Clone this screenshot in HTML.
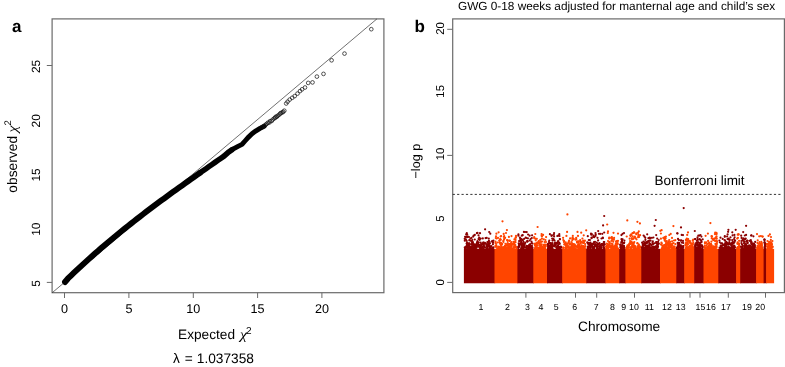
<!DOCTYPE html>
<html><head><meta charset="utf-8"><style>
html,body{margin:0;padding:0;background:#fff;overflow:hidden;width:785px;height:367px;}
svg{display:block;font-family:"Liberation Sans", sans-serif;will-change:transform;text-rendering:geometricPrecision;}
</style></head><body>
<svg width="785" height="367" viewBox="0 0 785 367" fill="#000">
<rect width="785" height="367" fill="#fff"/>
<rect x="52.1" y="18.9" width="331.79999999999995" height="273.8" fill="none" stroke="#6a6a6a" stroke-width="1.2"/>
<line x1="52.1" y1="292.8" x2="376.9" y2="18.9" stroke="#333" stroke-width="0.7"/>
<line x1="64.5" y1="292.7" x2="64.5" y2="298" stroke="#6a6a6a" stroke-width="1"/>
<text x="64.5" y="312.6" font-size="12.6" text-anchor="middle">0</text>
<line x1="128.9" y1="292.7" x2="128.9" y2="298" stroke="#6a6a6a" stroke-width="1"/>
<text x="128.9" y="312.6" font-size="12.6" text-anchor="middle">5</text>
<line x1="193.3" y1="292.7" x2="193.3" y2="298" stroke="#6a6a6a" stroke-width="1"/>
<text x="193.3" y="312.6" font-size="12.6" text-anchor="middle">10</text>
<line x1="257.6" y1="292.7" x2="257.6" y2="298" stroke="#6a6a6a" stroke-width="1"/>
<text x="257.6" y="312.6" font-size="12.6" text-anchor="middle">15</text>
<line x1="321.9" y1="292.7" x2="321.9" y2="298" stroke="#6a6a6a" stroke-width="1"/>
<text x="321.9" y="312.6" font-size="12.6" text-anchor="middle">20</text>
<line x1="46.8" y1="282.4" x2="52.1" y2="282.4" stroke="#6a6a6a" stroke-width="1"/>
<text transform="translate(40.3,283.4) rotate(-90)" font-size="11.9" text-anchor="middle">5</text>
<text transform="translate(40.3,229.2) rotate(-90)" font-size="11.9" text-anchor="middle">10</text>
<text transform="translate(40.3,175.0) rotate(-90)" font-size="11.9" text-anchor="middle">15</text>
<text transform="translate(40.3,120.8) rotate(-90)" font-size="11.9" text-anchor="middle">20</text>
<line x1="46.8" y1="65.5" x2="52.1" y2="65.5" stroke="#6a6a6a" stroke-width="1"/>
<text transform="translate(40.3,66.5) rotate(-90)" font-size="11.9" text-anchor="middle">25</text>
<text x="12" y="31.8" font-size="17" font-weight="bold">a</text>
<text transform="translate(17.2,192.7) rotate(-90)" font-size="13.8">observed</text>
<text transform="translate(17.4,132.4) rotate(-90) scale(1.15,1)" font-size="14" font-family="Liberation Serif" font-style="italic">χ</text>
<text transform="translate(10.6,125.4) rotate(-90)" font-size="9.6">2</text>
<text x="178.1" y="338.6" font-size="13.65">Expected</text>
<text transform="translate(240,338.6) scale(1.15,1)" font-size="14" font-family="Liberation Serif" font-style="italic">χ</text>
<text x="246" y="334.3" font-size="10">2</text>
<text x="172.9" y="362.8" font-size="13.7">λ</text>
<text x="184.8" y="362.8" font-size="13.7">=</text>
<text x="196.8" y="362.8" font-size="13.7">1.037358</text>
<polyline points="65.0,282.0 68.0,278.47 71.0,275.58 74.0,272.73 77.0,269.9 80.0,267.1 83.0,264.34 86.0,261.6 89.0,258.89 92.0,256.21 95.0,253.55 98.0,250.93 101.0,248.32 104.0,245.75 107.0,243.2 110.0,240.67 113.0,238.16 116.0,235.68 119.0,233.22 122.0,230.78 125.0,228.36 128.0,225.96 131.0,223.58 134.0,221.22 137.0,218.88 140.0,216.56 143.0,214.25 146.0,211.96 149.0,209.69 152.0,207.43 155.0,205.18 158.0,202.95 161.0,200.73 164.0,198.53 167.0,196.33 170.0,194.15 173.0,191.98 176.0,189.82 179.0,187.67 182.0,185.53 185.0,183.39 188.0,181.27 191.0,179.15 194.0,177.04 197.0,174.93 200.0,172.83" fill="none" stroke="#000" stroke-width="5.9" stroke-linecap="round" stroke-linejoin="round"/>
<polyline points="200.0,172.83 203.0,170.73 206.0,168.64 209.0,166.54 212.0,164.46 215.0,162.37 218.0,160.29 221.0,158.2 224.0,156.12 228,152.6 232,149.7" fill="none" stroke="#000" stroke-width="5.5" stroke-linecap="round" stroke-linejoin="round"/>
<polyline points="232,149.7 238,146.4 242,144.4 245,141 248,137.6 252,133.8 256,130.8 260,128.4 264,126.4" fill="none" stroke="#000" stroke-width="4.9" stroke-linecap="round" stroke-linejoin="round"/>
<circle cx="261.9" cy="127.2" r="1.85" fill="none" stroke="#111" stroke-width="0.72"/>
<circle cx="263.5" cy="126.2" r="1.85" fill="none" stroke="#111" stroke-width="0.72"/>
<circle cx="264.7" cy="125.6" r="1.85" fill="none" stroke="#111" stroke-width="0.72"/>
<circle cx="265.6" cy="124.8" r="1.85" fill="none" stroke="#111" stroke-width="0.72"/>
<circle cx="266.7" cy="123.9" r="1.85" fill="none" stroke="#111" stroke-width="0.72"/>
<circle cx="267.9" cy="122.7" r="1.85" fill="none" stroke="#111" stroke-width="0.72"/>
<circle cx="269.3" cy="122.6" r="1.85" fill="none" stroke="#111" stroke-width="0.72"/>
<circle cx="270.1" cy="121.1" r="1.85" fill="none" stroke="#111" stroke-width="0.72"/>
<circle cx="271.7" cy="121.0" r="1.85" fill="none" stroke="#111" stroke-width="0.72"/>
<circle cx="272.7" cy="119.6" r="1.85" fill="none" stroke="#111" stroke-width="0.72"/>
<circle cx="274.2" cy="118.4" r="1.85" fill="none" stroke="#111" stroke-width="0.72"/>
<circle cx="275.2" cy="117.8" r="1.85" fill="none" stroke="#111" stroke-width="0.72"/>
<circle cx="275.7" cy="116.8" r="1.85" fill="none" stroke="#111" stroke-width="0.72"/>
<circle cx="276.9" cy="116.7" r="1.85" fill="none" stroke="#111" stroke-width="0.72"/>
<circle cx="277.8" cy="115.7" r="1.85" fill="none" stroke="#111" stroke-width="0.72"/>
<circle cx="279.2" cy="114.7" r="1.85" fill="none" stroke="#111" stroke-width="0.72"/>
<circle cx="280.2" cy="113.6" r="1.85" fill="none" stroke="#111" stroke-width="0.72"/>
<circle cx="280.9" cy="113.0" r="1.85" fill="none" stroke="#111" stroke-width="0.72"/>
<circle cx="282.4" cy="112.4" r="1.85" fill="none" stroke="#111" stroke-width="0.72"/>
<circle cx="283.2" cy="111.8" r="1.85" fill="none" stroke="#111" stroke-width="0.72"/>
<circle cx="284.3" cy="110.7" r="1.85" fill="none" stroke="#111" stroke-width="0.72"/>
<circle cx="286.2" cy="103.5" r="1.85" fill="none" stroke="#111" stroke-width="0.72"/>
<circle cx="287.6" cy="101.7" r="1.85" fill="none" stroke="#111" stroke-width="0.72"/>
<circle cx="289.7" cy="99.6" r="1.85" fill="none" stroke="#111" stroke-width="0.72"/>
<circle cx="292.2" cy="97.8" r="1.85" fill="none" stroke="#111" stroke-width="0.72"/>
<circle cx="294.7" cy="96.1" r="1.85" fill="none" stroke="#111" stroke-width="0.72"/>
<circle cx="297.5" cy="93.6" r="1.85" fill="none" stroke="#111" stroke-width="0.72"/>
<circle cx="300.0" cy="91.1" r="1.85" fill="none" stroke="#111" stroke-width="0.72"/>
<circle cx="302.1" cy="89.3" r="1.85" fill="none" stroke="#111" stroke-width="0.72"/>
<circle cx="305.0" cy="87.5" r="1.85" fill="none" stroke="#111" stroke-width="0.72"/>
<circle cx="308.2" cy="82.9" r="1.85" fill="none" stroke="#111" stroke-width="0.72"/>
<circle cx="312.5" cy="82.4" r="1.85" fill="none" stroke="#111" stroke-width="0.72"/>
<circle cx="316.9" cy="76.6" r="1.85" fill="none" stroke="#111" stroke-width="0.72"/>
<circle cx="323.5" cy="73.9" r="1.85" fill="none" stroke="#111" stroke-width="0.72"/>
<circle cx="331.6" cy="60.3" r="1.85" fill="none" stroke="#111" stroke-width="0.72"/>
<circle cx="344.5" cy="53.6" r="1.85" fill="none" stroke="#111" stroke-width="0.72"/>
<circle cx="371.3" cy="29.2" r="1.85" fill="none" stroke="#111" stroke-width="0.72"/>
<rect x="452.7" y="18.9" width="331.7" height="273.70000000000005" fill="none" stroke="#6a6a6a" stroke-width="1.2"/>
<text x="414.5" y="31.9" font-size="17" font-weight="bold">b</text>
<text x="458" y="9.9" font-size="11.8">GWG 0-18 weeks adjusted for manternal age and child’s sex</text>
<line x1="447.2" y1="29.3" x2="452.7" y2="29.3" stroke="#6a6a6a" stroke-width="1"/>
<line x1="447.2" y1="155.4" x2="452.7" y2="155.4" stroke="#6a6a6a" stroke-width="1"/>
<line x1="447.2" y1="282.4" x2="452.7" y2="282.4" stroke="#6a6a6a" stroke-width="1"/>
<text transform="translate(443.9,28.4) rotate(-90)" font-size="11.4" text-anchor="middle">20</text>
<text transform="translate(443.9,91.3) rotate(-90)" font-size="11.4" text-anchor="middle">15</text>
<text transform="translate(443.9,154.0) rotate(-90)" font-size="11.4" text-anchor="middle">10</text>
<text transform="translate(443.9,218.6) rotate(-90)" font-size="11.4" text-anchor="middle">5</text>
<text transform="translate(443.9,282.4) rotate(-90)" font-size="11.4" text-anchor="middle">0</text>
<text transform="translate(419.7,178.5) rotate(-90)" font-size="12.6">−log p</text>
<line x1="525.9" y1="292.6" x2="525.9" y2="297.7" stroke="#6a6a6a" stroke-width="1"/>
<line x1="575.5" y1="292.6" x2="575.5" y2="297.7" stroke="#6a6a6a" stroke-width="1"/>
<line x1="596.7" y1="292.6" x2="596.7" y2="297.7" stroke="#6a6a6a" stroke-width="1"/>
<line x1="634.5" y1="292.6" x2="634.5" y2="297.7" stroke="#6a6a6a" stroke-width="1"/>
<line x1="690" y1="292.6" x2="690" y2="297.7" stroke="#6a6a6a" stroke-width="1"/>
<line x1="700" y1="292.6" x2="700" y2="297.7" stroke="#6a6a6a" stroke-width="1"/>
<line x1="728.3" y1="292.6" x2="728.3" y2="297.7" stroke="#6a6a6a" stroke-width="1"/>
<line x1="765.5" y1="292.6" x2="765.5" y2="297.7" stroke="#6a6a6a" stroke-width="1"/>
<text x="480.9" y="310" font-size="8.8" text-anchor="middle">1</text>
<text x="507.4" y="310" font-size="8.8" text-anchor="middle">2</text>
<text x="527.5" y="310" font-size="8.8" text-anchor="middle">3</text>
<text x="540.9" y="310" font-size="8.8" text-anchor="middle">4</text>
<text x="556.2" y="310" font-size="8.8" text-anchor="middle">5</text>
<text x="574.7" y="310" font-size="8.8" text-anchor="middle">6</text>
<text x="596.1" y="310" font-size="8.8" text-anchor="middle">7</text>
<text x="612.5" y="310" font-size="8.8" text-anchor="middle">8</text>
<text x="623.6" y="310" font-size="8.8" text-anchor="middle">9</text>
<text x="634" y="310" font-size="8.8" text-anchor="middle">10</text>
<text x="649.4" y="310" font-size="8.8" text-anchor="middle">11</text>
<text x="667" y="310" font-size="8.8" text-anchor="middle">12</text>
<text x="680.7" y="310" font-size="8.8" text-anchor="middle">13</text>
<text x="700.4" y="310" font-size="8.8" text-anchor="middle">15</text>
<text x="711" y="310" font-size="8.8" text-anchor="middle">16</text>
<text x="726" y="310" font-size="8.8" text-anchor="middle">17</text>
<text x="747" y="310" font-size="8.8" text-anchor="middle">19</text>
<text x="760.2" y="310" font-size="8.8" text-anchor="middle">20</text>
<text x="578" y="331.1" font-size="13.7">Chromosome</text>
<line x1="452.7" y1="194.4" x2="781" y2="194.4" stroke="#333" stroke-width="1" stroke-dasharray="2.2,2.2"/>
<text x="654.6" y="184.9" font-size="13.5">Bonferroni limit</text>
<rect x="463.9" y="248.86" width="31.3" height="34.4" fill="#8B0000"/>
<rect x="494.5" y="248.86" width="23.6" height="34.4" fill="#FF4500"/>
<rect x="517.4" y="248.86" width="16.6" height="34.4" fill="#8B0000"/>
<rect x="533.3" y="248.86" width="14.4" height="34.4" fill="#FF4500"/>
<rect x="547.0" y="248.86" width="15.9" height="34.4" fill="#8B0000"/>
<rect x="562.2" y="248.86" width="24.8" height="34.4" fill="#FF4500"/>
<rect x="586.3" y="248.86" width="19.8" height="34.4" fill="#8B0000"/>
<rect x="605.4" y="248.86" width="14.5" height="34.4" fill="#FF4500"/>
<rect x="619.2" y="248.86" width="6.9" height="34.4" fill="#8B0000"/>
<rect x="625.4" y="248.86" width="16.6" height="34.4" fill="#FF4500"/>
<rect x="641.3" y="248.86" width="19.4" height="34.4" fill="#8B0000"/>
<rect x="660" y="248.86" width="17.0" height="34.4" fill="#FF4500"/>
<rect x="676.3" y="248.86" width="8.6" height="34.4" fill="#8B0000"/>
<rect x="684.2" y="248.86" width="10.7" height="34.4" fill="#FF4500"/>
<rect x="694.2" y="248.86" width="10.0" height="34.4" fill="#8B0000"/>
<rect x="703.5" y="248.86" width="15.5" height="34.4" fill="#FF4500"/>
<rect x="718.3" y="248.86" width="18.5" height="34.4" fill="#8B0000"/>
<rect x="736.1" y="248.86" width="4.8" height="34.4" fill="#FF4500"/>
<rect x="740.2" y="248.86" width="16.6" height="34.4" fill="#8B0000"/>
<rect x="756.1" y="248.86" width="8.2" height="34.4" fill="#FF4500"/>
<rect x="763.6" y="248.86" width="3.2" height="34.4" fill="#8B0000"/>
<rect x="766.1" y="248.86" width="8.0" height="34.4" fill="#FF4500"/>
<g fill="#8B0000"><circle cx="471.8" cy="247.8" r="1.1"/><circle cx="481.4" cy="245.1" r="1.1"/><circle cx="485.9" cy="243.8" r="1.1"/><circle cx="473.1" cy="248.1" r="1.1"/><circle cx="476.8" cy="247.6" r="1.1"/><circle cx="486.7" cy="248.7" r="1.1"/><circle cx="465.8" cy="247.2" r="1.1"/><circle cx="484.1" cy="246.5" r="1.1"/><circle cx="490.1" cy="248.6" r="1.1"/><circle cx="473.8" cy="245.6" r="1.1"/><circle cx="481.5" cy="247.7" r="1.1"/><circle cx="477.9" cy="245.7" r="1.1"/><circle cx="478.4" cy="245.6" r="1.1"/><circle cx="484.0" cy="243.7" r="1.1"/><circle cx="483.5" cy="245.2" r="1.1"/><circle cx="493.5" cy="247.4" r="1.1"/><circle cx="475.9" cy="248.0" r="1.1"/><circle cx="484.1" cy="247.0" r="1.1"/><circle cx="469.6" cy="246.1" r="1.1"/><circle cx="468.1" cy="248.5" r="1.1"/><circle cx="468.5" cy="244.8" r="1.1"/><circle cx="471.9" cy="247.3" r="1.1"/><circle cx="467.0" cy="244.9" r="1.1"/><circle cx="477.7" cy="245.6" r="1.1"/><circle cx="488.5" cy="243.9" r="1.1"/><circle cx="489.8" cy="247.3" r="1.1"/><circle cx="475.1" cy="248.4" r="1.1"/><circle cx="490.3" cy="246.3" r="1.1"/><circle cx="469.8" cy="247.5" r="1.1"/><circle cx="471.4" cy="248.5" r="1.1"/><circle cx="481.8" cy="248.6" r="1.1"/><circle cx="472.3" cy="246.0" r="1.1"/><circle cx="475.4" cy="246.2" r="1.1"/><circle cx="481.1" cy="248.8" r="1.1"/><circle cx="479.6" cy="245.2" r="1.1"/><circle cx="482.6" cy="247.7" r="1.1"/><circle cx="490.8" cy="248.5" r="1.1"/><circle cx="487.3" cy="248.1" r="1.1"/><circle cx="476.1" cy="245.7" r="1.1"/><circle cx="476.3" cy="245.7" r="1.1"/><circle cx="466.5" cy="246.0" r="1.1"/><circle cx="466.7" cy="246.7" r="1.1"/><circle cx="474.6" cy="248.5" r="1.1"/><circle cx="466.2" cy="247.4" r="1.1"/><circle cx="467.6" cy="247.4" r="1.1"/><circle cx="475.2" cy="248.9" r="1.1"/><circle cx="482.5" cy="243.8" r="1.1"/><circle cx="469.0" cy="248.0" r="1.1"/><circle cx="475.3" cy="248.8" r="1.1"/><circle cx="468.3" cy="246.5" r="1.1"/><circle cx="478.2" cy="244.2" r="1.1"/><circle cx="478.7" cy="242.4" r="1.1"/><circle cx="474.6" cy="247.9" r="1.1"/><circle cx="472.4" cy="248.3" r="1.1"/><circle cx="465.4" cy="248.2" r="1.1"/><circle cx="492.3" cy="247.5" r="1.1"/><circle cx="480.5" cy="247.5" r="1.1"/><circle cx="465.5" cy="248.6" r="1.1"/><circle cx="489.7" cy="242.0" r="1.1"/><circle cx="484.9" cy="247.6" r="1.1"/><circle cx="469.5" cy="248.7" r="1.1"/><circle cx="487.1" cy="246.5" r="1.1"/><circle cx="474.3" cy="244.6" r="1.1"/><circle cx="471.2" cy="248.0" r="1.1"/><circle cx="489.4" cy="246.1" r="1.1"/><circle cx="488.1" cy="242.1" r="1.1"/><circle cx="471.3" cy="247.1" r="1.1"/><circle cx="479.7" cy="245.1" r="1.1"/><circle cx="465.5" cy="248.5" r="1.1"/><circle cx="472.8" cy="248.4" r="1.1"/><circle cx="492.4" cy="248.6" r="1.1"/><circle cx="477.7" cy="245.0" r="1.1"/><circle cx="492.4" cy="241.9" r="1.1"/><circle cx="475.3" cy="246.0" r="1.1"/><circle cx="470.4" cy="248.5" r="1.1"/><circle cx="470.6" cy="247.1" r="1.1"/><circle cx="489.1" cy="245.0" r="1.1"/><circle cx="478.6" cy="245.0" r="1.1"/><circle cx="467.2" cy="246.3" r="1.1"/><circle cx="483.9" cy="245.1" r="1.1"/><circle cx="486.5" cy="245.1" r="1.1"/><circle cx="478.6" cy="246.5" r="1.1"/><circle cx="474.3" cy="246.9" r="1.1"/><circle cx="487.9" cy="244.8" r="1.1"/><circle cx="476.3" cy="246.4" r="1.1"/><circle cx="492.2" cy="248.4" r="1.1"/><circle cx="468.4" cy="248.6" r="1.1"/><circle cx="469.1" cy="247.3" r="1.1"/><circle cx="468.9" cy="245.1" r="1.1"/><circle cx="488.7" cy="246.3" r="1.1"/><circle cx="474.9" cy="245.2" r="1.1"/><circle cx="480.6" cy="248.4" r="1.1"/><circle cx="492.9" cy="248.6" r="1.1"/><circle cx="483.5" cy="248.5" r="1.1"/><circle cx="477.3" cy="243.1" r="1.1"/><circle cx="490.0" cy="247.9" r="1.1"/><circle cx="472.0" cy="248.1" r="1.1"/><circle cx="473.2" cy="247.3" r="1.1"/><circle cx="472.2" cy="248.7" r="1.1"/><circle cx="476.9" cy="245.5" r="1.1"/><circle cx="475.0" cy="245.1" r="1.1"/><circle cx="478.0" cy="244.8" r="1.1"/><circle cx="476.9" cy="244.1" r="1.1"/><circle cx="491.3" cy="246.1" r="1.1"/><circle cx="479.9" cy="245.7" r="1.1"/><circle cx="465.2" cy="248.8" r="1.1"/><circle cx="464.8" cy="247.4" r="1.1"/><circle cx="487.9" cy="248.3" r="1.1"/><circle cx="485.7" cy="247.5" r="1.1"/><circle cx="480.8" cy="246.3" r="1.1"/><circle cx="480.8" cy="247.5" r="1.1"/><circle cx="487.4" cy="246.1" r="1.1"/><circle cx="471.9" cy="246.3" r="1.1"/><circle cx="472.7" cy="246.9" r="1.1"/><circle cx="481.0" cy="248.4" r="1.1"/><circle cx="486.7" cy="245.9" r="1.1"/><circle cx="482.5" cy="246.5" r="1.1"/><circle cx="479.4" cy="247.4" r="1.1"/><circle cx="477.8" cy="245.0" r="1.1"/><circle cx="480.2" cy="248.6" r="1.1"/><circle cx="485.0" cy="242.9" r="1.1"/><circle cx="490.1" cy="248.0" r="1.1"/><circle cx="472.2" cy="244.1" r="1.1"/><circle cx="492.1" cy="241.2" r="1.1"/><circle cx="468.7" cy="243.5" r="1.1"/><circle cx="477.5" cy="232.9" r="1.1"/><circle cx="466.8" cy="236.6" r="1.1"/><circle cx="487.4" cy="242.2" r="1.1"/><circle cx="469.2" cy="243.8" r="1.1"/><circle cx="483.8" cy="242.6" r="1.1"/><circle cx="490.3" cy="233.7" r="1.1"/><circle cx="471.1" cy="244.3" r="1.1"/><circle cx="476.2" cy="244.2" r="1.1"/><circle cx="493.4" cy="240.5" r="1.1"/><circle cx="469.4" cy="243.4" r="1.1"/><circle cx="479.7" cy="239.8" r="1.1"/><circle cx="470.4" cy="238.5" r="1.1"/><circle cx="485.6" cy="238.1" r="1.1"/><circle cx="477.5" cy="241.2" r="1.1"/><circle cx="482.8" cy="238.4" r="1.1"/><circle cx="466.6" cy="240.8" r="1.1"/><circle cx="487.6" cy="244.4" r="1.1"/><circle cx="467.7" cy="244.3" r="1.1"/><circle cx="465.8" cy="237.1" r="1.1"/><circle cx="472.5" cy="243.1" r="1.1"/><circle cx="476.9" cy="233.2" r="1.1"/><circle cx="488.5" cy="243.9" r="1.1"/><circle cx="469.0" cy="237.0" r="1.1"/><circle cx="481.2" cy="244.0" r="1.1"/><circle cx="467.3" cy="242.5" r="1.1"/><circle cx="477.0" cy="242.4" r="1.1"/><circle cx="483.1" cy="244.1" r="1.1"/><circle cx="467.1" cy="243.2" r="1.1"/><circle cx="466.6" cy="243.6" r="1.1"/><circle cx="477.9" cy="243.6" r="1.1"/><circle cx="480.7" cy="238.5" r="1.1"/><circle cx="472.5" cy="244.0" r="1.1"/><circle cx="480.0" cy="233.2" r="1.1"/><circle cx="467.9" cy="236.6" r="1.1"/><circle cx="466.2" cy="234.4" r="1.1"/><circle cx="473.7" cy="235.6" r="1.1"/><circle cx="486.7" cy="237.9" r="1.1"/><circle cx="479.2" cy="237.6" r="1.1"/><circle cx="474.8" cy="234.9" r="1.1"/><circle cx="465.1" cy="236.8" r="1.1"/><circle cx="480.7" cy="242.7" r="1.1"/><circle cx="478.5" cy="235.3" r="1.1"/><circle cx="467.8" cy="244.1" r="1.1"/><circle cx="477.2" cy="243.3" r="1.1"/><circle cx="488.9" cy="240.6" r="1.1"/><circle cx="479.4" cy="239.3" r="1.1"/><circle cx="493.2" cy="242.4" r="1.1"/><circle cx="488.8" cy="238.5" r="1.1"/><circle cx="483.1" cy="242.5" r="1.1"/><circle cx="474.8" cy="239.5" r="1.1"/><circle cx="466.8" cy="233.2" r="1.1"/><circle cx="472.1" cy="242.8" r="1.1"/><circle cx="467.2" cy="234.5" r="1.1"/><circle cx="489.9" cy="243.5" r="1.1"/><circle cx="472.9" cy="242.2" r="1.1"/><circle cx="473.2" cy="236.6" r="1.1"/><circle cx="469.3" cy="240.2" r="1.1"/><circle cx="472.3" cy="240.0" r="1.1"/><circle cx="492.9" cy="244.2" r="1.1"/><circle cx="471.8" cy="241.1" r="1.1"/><circle cx="473.7" cy="244.2" r="1.1"/><circle cx="464.7" cy="238.8" r="1.1"/><circle cx="478.5" cy="239.1" r="1.1"/><circle cx="470.5" cy="240.7" r="1.1"/><circle cx="464.8" cy="240.7" r="1.1"/><circle cx="467.3" cy="237.1" r="1.1"/><circle cx="465.9" cy="239.4" r="1.1"/><circle cx="471.5" cy="237.9" r="1.1"/><circle cx="485.1" cy="229.3" r="1.1"/><circle cx="489.2" cy="232.0" r="1.1"/></g>
<g fill="#FF4500"><circle cx="511.3" cy="246.2" r="1.1"/><circle cx="509.3" cy="247.3" r="1.1"/><circle cx="503.6" cy="247.8" r="1.1"/><circle cx="502.2" cy="243.8" r="1.1"/><circle cx="510.7" cy="247.4" r="1.1"/><circle cx="509.0" cy="248.7" r="1.1"/><circle cx="514.3" cy="244.2" r="1.1"/><circle cx="508.7" cy="247.6" r="1.1"/><circle cx="498.3" cy="248.4" r="1.1"/><circle cx="506.5" cy="244.3" r="1.1"/><circle cx="512.4" cy="244.1" r="1.1"/><circle cx="512.9" cy="248.7" r="1.1"/><circle cx="509.8" cy="244.2" r="1.1"/><circle cx="510.1" cy="246.2" r="1.1"/><circle cx="498.1" cy="248.8" r="1.1"/><circle cx="503.0" cy="248.2" r="1.1"/><circle cx="507.2" cy="245.1" r="1.1"/><circle cx="508.7" cy="245.9" r="1.1"/><circle cx="505.7" cy="246.2" r="1.1"/><circle cx="495.4" cy="246.1" r="1.1"/><circle cx="506.0" cy="247.6" r="1.1"/><circle cx="506.7" cy="244.8" r="1.1"/><circle cx="511.0" cy="248.4" r="1.1"/><circle cx="500.7" cy="248.1" r="1.1"/><circle cx="510.8" cy="247.1" r="1.1"/><circle cx="499.7" cy="248.0" r="1.1"/><circle cx="505.8" cy="248.4" r="1.1"/><circle cx="503.4" cy="242.0" r="1.1"/><circle cx="511.6" cy="245.1" r="1.1"/><circle cx="508.4" cy="248.4" r="1.1"/><circle cx="498.4" cy="248.2" r="1.1"/><circle cx="500.7" cy="248.1" r="1.1"/><circle cx="507.4" cy="248.8" r="1.1"/><circle cx="495.6" cy="246.7" r="1.1"/><circle cx="509.6" cy="247.0" r="1.1"/><circle cx="510.0" cy="248.1" r="1.1"/><circle cx="506.3" cy="247.9" r="1.1"/><circle cx="505.2" cy="247.0" r="1.1"/><circle cx="514.3" cy="247.6" r="1.1"/><circle cx="499.5" cy="248.6" r="1.1"/><circle cx="495.7" cy="243.0" r="1.1"/><circle cx="505.1" cy="248.1" r="1.1"/><circle cx="504.9" cy="246.0" r="1.1"/><circle cx="501.0" cy="242.9" r="1.1"/><circle cx="499.8" cy="247.3" r="1.1"/><circle cx="507.7" cy="243.0" r="1.1"/><circle cx="515.6" cy="246.9" r="1.1"/><circle cx="498.1" cy="246.5" r="1.1"/><circle cx="514.2" cy="247.6" r="1.1"/><circle cx="510.3" cy="246.1" r="1.1"/><circle cx="505.7" cy="248.2" r="1.1"/><circle cx="495.8" cy="243.5" r="1.1"/><circle cx="504.9" cy="245.9" r="1.1"/><circle cx="501.7" cy="248.8" r="1.1"/><circle cx="502.0" cy="247.4" r="1.1"/><circle cx="513.2" cy="247.1" r="1.1"/><circle cx="513.2" cy="244.6" r="1.1"/><circle cx="497.9" cy="248.8" r="1.1"/><circle cx="514.5" cy="245.3" r="1.1"/><circle cx="501.5" cy="247.1" r="1.1"/><circle cx="516.6" cy="247.1" r="1.1"/><circle cx="507.8" cy="247.0" r="1.1"/><circle cx="501.2" cy="247.1" r="1.1"/><circle cx="496.3" cy="246.8" r="1.1"/><circle cx="501.4" cy="245.0" r="1.1"/><circle cx="515.2" cy="246.0" r="1.1"/><circle cx="506.2" cy="248.9" r="1.1"/><circle cx="499.3" cy="246.9" r="1.1"/><circle cx="514.1" cy="244.4" r="1.1"/><circle cx="512.6" cy="244.3" r="1.1"/><circle cx="515.3" cy="245.1" r="1.1"/><circle cx="507.0" cy="244.8" r="1.1"/><circle cx="510.9" cy="248.7" r="1.1"/><circle cx="504.9" cy="248.1" r="1.1"/><circle cx="501.4" cy="248.8" r="1.1"/><circle cx="496.3" cy="245.2" r="1.1"/><circle cx="505.4" cy="247.7" r="1.1"/><circle cx="502.6" cy="248.3" r="1.1"/><circle cx="516.1" cy="247.6" r="1.1"/><circle cx="500.8" cy="244.9" r="1.1"/><circle cx="507.2" cy="247.7" r="1.1"/><circle cx="503.7" cy="247.1" r="1.1"/><circle cx="499.7" cy="248.1" r="1.1"/><circle cx="514.6" cy="247.6" r="1.1"/><circle cx="514.6" cy="247.1" r="1.1"/><circle cx="516.5" cy="248.8" r="1.1"/><circle cx="499.4" cy="247.5" r="1.1"/><circle cx="497.2" cy="248.4" r="1.1"/><circle cx="500.4" cy="248.3" r="1.1"/><circle cx="500.8" cy="247.9" r="1.1"/><circle cx="511.3" cy="244.1" r="1.1"/><circle cx="504.1" cy="239.6" r="1.1"/><circle cx="503.3" cy="240.9" r="1.1"/><circle cx="496.6" cy="238.5" r="1.1"/><circle cx="515.9" cy="237.4" r="1.1"/><circle cx="506.0" cy="233.0" r="1.1"/><circle cx="513.7" cy="241.9" r="1.1"/><circle cx="501.1" cy="236.0" r="1.1"/><circle cx="503.8" cy="236.8" r="1.1"/><circle cx="515.6" cy="240.0" r="1.1"/><circle cx="513.9" cy="243.5" r="1.1"/><circle cx="514.4" cy="242.5" r="1.1"/><circle cx="507.8" cy="240.3" r="1.1"/><circle cx="515.0" cy="239.3" r="1.1"/><circle cx="513.5" cy="243.4" r="1.1"/><circle cx="500.6" cy="244.3" r="1.1"/><circle cx="498.6" cy="232.3" r="1.1"/><circle cx="509.8" cy="240.9" r="1.1"/><circle cx="510.7" cy="244.1" r="1.1"/><circle cx="511.6" cy="242.0" r="1.1"/><circle cx="507.0" cy="240.1" r="1.1"/><circle cx="500.3" cy="243.1" r="1.1"/><circle cx="509.0" cy="244.0" r="1.1"/><circle cx="498.0" cy="237.9" r="1.1"/><circle cx="508.9" cy="236.9" r="1.1"/><circle cx="497.7" cy="242.5" r="1.1"/><circle cx="507.7" cy="240.9" r="1.1"/><circle cx="500.1" cy="239.2" r="1.1"/><circle cx="495.5" cy="241.6" r="1.1"/><circle cx="505.1" cy="237.8" r="1.1"/><circle cx="509.0" cy="244.2" r="1.1"/><circle cx="505.4" cy="243.8" r="1.1"/><circle cx="500.6" cy="236.5" r="1.1"/><circle cx="510.3" cy="244.2" r="1.1"/><circle cx="495.8" cy="238.0" r="1.1"/><circle cx="509.7" cy="240.6" r="1.1"/><circle cx="500.8" cy="239.7" r="1.1"/><circle cx="515.0" cy="242.2" r="1.1"/><circle cx="496.0" cy="236.3" r="1.1"/><circle cx="504.3" cy="238.5" r="1.1"/><circle cx="499.5" cy="242.3" r="1.1"/><circle cx="511.0" cy="243.2" r="1.1"/><circle cx="499.7" cy="240.7" r="1.1"/><circle cx="501.9" cy="244.3" r="1.1"/><circle cx="500.2" cy="243.3" r="1.1"/><circle cx="511.5" cy="236.1" r="1.1"/><circle cx="515.6" cy="237.7" r="1.1"/><circle cx="499.3" cy="240.6" r="1.1"/><circle cx="504.2" cy="236.2" r="1.1"/><circle cx="515.5" cy="242.2" r="1.1"/><circle cx="503.7" cy="233.9" r="1.1"/><circle cx="516.0" cy="235.9" r="1.1"/><circle cx="496.4" cy="233.7" r="1.1"/><circle cx="514.4" cy="239.3" r="1.1"/><circle cx="502.5" cy="221.3" r="1.1"/><circle cx="506.9" cy="230.1" r="1.1"/></g>
<g fill="#8B0000"><circle cx="530.8" cy="246.6" r="1.1"/><circle cx="531.5" cy="247.9" r="1.1"/><circle cx="522.9" cy="240.1" r="1.1"/><circle cx="528.9" cy="246.5" r="1.1"/><circle cx="518.7" cy="243.4" r="1.1"/><circle cx="523.5" cy="247.6" r="1.1"/><circle cx="522.9" cy="246.7" r="1.1"/><circle cx="522.2" cy="248.8" r="1.1"/><circle cx="523.2" cy="248.7" r="1.1"/><circle cx="532.0" cy="247.6" r="1.1"/><circle cx="521.2" cy="248.5" r="1.1"/><circle cx="530.0" cy="245.9" r="1.1"/><circle cx="524.4" cy="245.2" r="1.1"/><circle cx="523.5" cy="246.1" r="1.1"/><circle cx="531.3" cy="248.0" r="1.1"/><circle cx="531.0" cy="248.0" r="1.1"/><circle cx="518.6" cy="246.6" r="1.1"/><circle cx="529.2" cy="244.9" r="1.1"/><circle cx="518.8" cy="246.4" r="1.1"/><circle cx="531.4" cy="248.0" r="1.1"/><circle cx="521.9" cy="248.7" r="1.1"/><circle cx="523.0" cy="248.8" r="1.1"/><circle cx="522.1" cy="243.5" r="1.1"/><circle cx="521.9" cy="245.5" r="1.1"/><circle cx="528.4" cy="247.9" r="1.1"/><circle cx="518.3" cy="248.0" r="1.1"/><circle cx="529.0" cy="247.0" r="1.1"/><circle cx="531.7" cy="245.8" r="1.1"/><circle cx="518.5" cy="247.1" r="1.1"/><circle cx="531.9" cy="248.6" r="1.1"/><circle cx="531.8" cy="246.0" r="1.1"/><circle cx="524.3" cy="247.4" r="1.1"/><circle cx="525.3" cy="247.6" r="1.1"/><circle cx="529.7" cy="247.4" r="1.1"/><circle cx="528.8" cy="248.2" r="1.1"/><circle cx="526.9" cy="246.9" r="1.1"/><circle cx="522.9" cy="245.0" r="1.1"/><circle cx="529.4" cy="247.8" r="1.1"/><circle cx="519.3" cy="246.7" r="1.1"/><circle cx="521.7" cy="247.5" r="1.1"/><circle cx="519.1" cy="244.9" r="1.1"/><circle cx="522.9" cy="245.7" r="1.1"/><circle cx="532.2" cy="248.2" r="1.1"/><circle cx="522.0" cy="243.3" r="1.1"/><circle cx="519.4" cy="243.8" r="1.1"/><circle cx="528.3" cy="246.4" r="1.1"/><circle cx="524.6" cy="247.2" r="1.1"/><circle cx="527.1" cy="248.6" r="1.1"/><circle cx="527.8" cy="246.2" r="1.1"/><circle cx="527.7" cy="248.8" r="1.1"/><circle cx="519.9" cy="244.0" r="1.1"/><circle cx="526.3" cy="247.7" r="1.1"/><circle cx="523.5" cy="247.1" r="1.1"/><circle cx="521.7" cy="248.7" r="1.1"/><circle cx="521.7" cy="247.2" r="1.1"/><circle cx="526.5" cy="245.9" r="1.1"/><circle cx="522.9" cy="244.5" r="1.1"/><circle cx="525.5" cy="242.6" r="1.1"/><circle cx="521.5" cy="244.1" r="1.1"/><circle cx="532.4" cy="247.5" r="1.1"/><circle cx="519.7" cy="245.4" r="1.1"/><circle cx="530.2" cy="244.2" r="1.1"/><circle cx="531.3" cy="248.1" r="1.1"/><circle cx="519.9" cy="237.7" r="1.1"/><circle cx="532.1" cy="235.3" r="1.1"/><circle cx="531.5" cy="241.5" r="1.1"/><circle cx="530.6" cy="239.0" r="1.1"/><circle cx="521.9" cy="240.0" r="1.1"/><circle cx="531.7" cy="243.1" r="1.1"/><circle cx="526.7" cy="232.1" r="1.1"/><circle cx="521.3" cy="241.8" r="1.1"/><circle cx="520.2" cy="239.0" r="1.1"/><circle cx="521.8" cy="235.7" r="1.1"/><circle cx="527.5" cy="241.6" r="1.1"/><circle cx="518.4" cy="235.7" r="1.1"/><circle cx="527.9" cy="238.3" r="1.1"/><circle cx="522.7" cy="235.2" r="1.1"/><circle cx="529.6" cy="235.7" r="1.1"/><circle cx="519.1" cy="241.1" r="1.1"/><circle cx="523.9" cy="231.9" r="1.1"/><circle cx="527.3" cy="241.2" r="1.1"/><circle cx="528.1" cy="234.5" r="1.1"/><circle cx="522.3" cy="239.5" r="1.1"/><circle cx="531.8" cy="238.0" r="1.1"/><circle cx="526.3" cy="238.0" r="1.1"/><circle cx="524.2" cy="238.8" r="1.1"/><circle cx="532.5" cy="243.6" r="1.1"/><circle cx="521.0" cy="238.9" r="1.1"/><circle cx="521.1" cy="242.7" r="1.1"/><circle cx="524.3" cy="243.9" r="1.1"/><circle cx="524.0" cy="243.3" r="1.1"/><circle cx="524.8" cy="243.8" r="1.1"/><circle cx="518.4" cy="234.4" r="1.1"/><circle cx="527.4" cy="241.2" r="1.1"/><circle cx="519.5" cy="243.9" r="1.1"/><circle cx="523.5" cy="241.8" r="1.1"/><circle cx="520.3" cy="240.7" r="1.1"/><circle cx="525.7" cy="237.5" r="1.1"/><circle cx="519.8" cy="244.0" r="1.1"/><circle cx="529.7" cy="240.5" r="1.1"/><circle cx="521.0" cy="244.2" r="1.1"/><circle cx="525.1" cy="232.0" r="1.1"/></g>
<g fill="#FF4500"><circle cx="545.9" cy="244.6" r="1.1"/><circle cx="539.9" cy="244.5" r="1.1"/><circle cx="538.8" cy="243.4" r="1.1"/><circle cx="545.0" cy="247.0" r="1.1"/><circle cx="536.0" cy="245.4" r="1.1"/><circle cx="543.6" cy="245.6" r="1.1"/><circle cx="544.3" cy="248.4" r="1.1"/><circle cx="544.1" cy="246.3" r="1.1"/><circle cx="538.9" cy="248.1" r="1.1"/><circle cx="540.4" cy="247.2" r="1.1"/><circle cx="537.1" cy="247.9" r="1.1"/><circle cx="542.9" cy="248.0" r="1.1"/><circle cx="540.9" cy="248.3" r="1.1"/><circle cx="543.3" cy="248.4" r="1.1"/><circle cx="535.5" cy="244.2" r="1.1"/><circle cx="541.4" cy="247.7" r="1.1"/><circle cx="537.8" cy="245.5" r="1.1"/><circle cx="539.2" cy="247.8" r="1.1"/><circle cx="542.1" cy="246.5" r="1.1"/><circle cx="539.5" cy="247.5" r="1.1"/><circle cx="541.6" cy="248.4" r="1.1"/><circle cx="540.0" cy="248.7" r="1.1"/><circle cx="543.5" cy="248.5" r="1.1"/><circle cx="539.6" cy="244.6" r="1.1"/><circle cx="535.4" cy="247.6" r="1.1"/><circle cx="535.7" cy="246.3" r="1.1"/><circle cx="539.4" cy="247.9" r="1.1"/><circle cx="540.3" cy="248.4" r="1.1"/><circle cx="535.1" cy="245.4" r="1.1"/><circle cx="543.0" cy="248.0" r="1.1"/><circle cx="534.8" cy="248.3" r="1.1"/><circle cx="540.2" cy="245.9" r="1.1"/><circle cx="535.7" cy="244.4" r="1.1"/><circle cx="544.5" cy="244.6" r="1.1"/><circle cx="544.0" cy="244.8" r="1.1"/><circle cx="536.4" cy="248.8" r="1.1"/><circle cx="545.7" cy="245.9" r="1.1"/><circle cx="545.2" cy="248.5" r="1.1"/><circle cx="545.4" cy="246.6" r="1.1"/><circle cx="534.9" cy="245.0" r="1.1"/><circle cx="536.0" cy="246.3" r="1.1"/><circle cx="544.9" cy="245.4" r="1.1"/><circle cx="535.8" cy="248.1" r="1.1"/><circle cx="540.2" cy="244.3" r="1.1"/><circle cx="537.3" cy="247.3" r="1.1"/><circle cx="540.2" cy="248.0" r="1.1"/><circle cx="536.3" cy="248.6" r="1.1"/><circle cx="536.1" cy="248.2" r="1.1"/><circle cx="544.9" cy="245.3" r="1.1"/><circle cx="536.1" cy="247.4" r="1.1"/><circle cx="540.5" cy="248.6" r="1.1"/><circle cx="541.8" cy="247.6" r="1.1"/><circle cx="540.8" cy="245.6" r="1.1"/><circle cx="541.1" cy="244.9" r="1.1"/><circle cx="535.4" cy="243.7" r="1.1"/><circle cx="541.7" cy="244.4" r="1.1"/><circle cx="543.8" cy="239.3" r="1.1"/><circle cx="546.1" cy="237.1" r="1.1"/><circle cx="538.5" cy="241.4" r="1.1"/><circle cx="539.5" cy="243.0" r="1.1"/><circle cx="543.1" cy="234.9" r="1.1"/><circle cx="537.2" cy="243.3" r="1.1"/><circle cx="546.0" cy="242.0" r="1.1"/><circle cx="542.1" cy="241.5" r="1.1"/><circle cx="534.1" cy="238.0" r="1.1"/><circle cx="541.6" cy="234.0" r="1.1"/><circle cx="540.3" cy="239.8" r="1.1"/><circle cx="535.7" cy="243.8" r="1.1"/><circle cx="542.0" cy="236.3" r="1.1"/><circle cx="535.4" cy="238.7" r="1.1"/><circle cx="536.8" cy="238.8" r="1.1"/><circle cx="541.2" cy="241.5" r="1.1"/><circle cx="541.6" cy="235.7" r="1.1"/><circle cx="535.7" cy="240.3" r="1.1"/><circle cx="537.0" cy="244.1" r="1.1"/><circle cx="535.3" cy="234.0" r="1.1"/><circle cx="544.6" cy="242.0" r="1.1"/><circle cx="539.0" cy="243.1" r="1.1"/><circle cx="534.2" cy="237.1" r="1.1"/><circle cx="540.9" cy="242.0" r="1.1"/><circle cx="541.9" cy="238.7" r="1.1"/><circle cx="545.4" cy="240.0" r="1.1"/><circle cx="537.1" cy="242.7" r="1.1"/><circle cx="534.6" cy="243.9" r="1.1"/><circle cx="539.0" cy="241.0" r="1.1"/><circle cx="537.6" cy="227.0" r="1.1"/></g>
<g fill="#8B0000"><circle cx="558.4" cy="248.8" r="1.1"/><circle cx="548.0" cy="248.0" r="1.1"/><circle cx="549.7" cy="243.1" r="1.1"/><circle cx="550.5" cy="247.0" r="1.1"/><circle cx="556.5" cy="246.5" r="1.1"/><circle cx="558.9" cy="247.0" r="1.1"/><circle cx="551.9" cy="247.9" r="1.1"/><circle cx="548.5" cy="246.9" r="1.1"/><circle cx="557.5" cy="245.5" r="1.1"/><circle cx="547.9" cy="246.0" r="1.1"/><circle cx="554.1" cy="246.5" r="1.1"/><circle cx="557.9" cy="245.4" r="1.1"/><circle cx="549.2" cy="247.1" r="1.1"/><circle cx="551.0" cy="248.3" r="1.1"/><circle cx="558.0" cy="246.6" r="1.1"/><circle cx="557.3" cy="248.3" r="1.1"/><circle cx="551.4" cy="246.6" r="1.1"/><circle cx="555.3" cy="245.6" r="1.1"/><circle cx="554.9" cy="244.8" r="1.1"/><circle cx="551.4" cy="247.1" r="1.1"/><circle cx="550.8" cy="244.7" r="1.1"/><circle cx="559.8" cy="243.8" r="1.1"/><circle cx="551.0" cy="246.9" r="1.1"/><circle cx="557.9" cy="248.7" r="1.1"/><circle cx="552.2" cy="244.9" r="1.1"/><circle cx="559.8" cy="247.4" r="1.1"/><circle cx="560.1" cy="248.0" r="1.1"/><circle cx="556.4" cy="247.2" r="1.1"/><circle cx="561.1" cy="247.5" r="1.1"/><circle cx="554.2" cy="245.4" r="1.1"/><circle cx="559.5" cy="246.8" r="1.1"/><circle cx="553.7" cy="245.6" r="1.1"/><circle cx="552.0" cy="248.3" r="1.1"/><circle cx="550.7" cy="245.6" r="1.1"/><circle cx="560.2" cy="248.1" r="1.1"/><circle cx="549.8" cy="248.2" r="1.1"/><circle cx="560.4" cy="247.7" r="1.1"/><circle cx="552.5" cy="248.7" r="1.1"/><circle cx="548.4" cy="248.5" r="1.1"/><circle cx="557.2" cy="248.4" r="1.1"/><circle cx="557.8" cy="246.3" r="1.1"/><circle cx="548.7" cy="245.9" r="1.1"/><circle cx="558.9" cy="246.8" r="1.1"/><circle cx="558.9" cy="247.6" r="1.1"/><circle cx="559.6" cy="248.1" r="1.1"/><circle cx="560.2" cy="248.3" r="1.1"/><circle cx="550.6" cy="247.7" r="1.1"/><circle cx="549.3" cy="248.5" r="1.1"/><circle cx="558.8" cy="244.1" r="1.1"/><circle cx="556.4" cy="247.8" r="1.1"/><circle cx="551.7" cy="247.2" r="1.1"/><circle cx="549.2" cy="245.7" r="1.1"/><circle cx="550.6" cy="245.4" r="1.1"/><circle cx="552.1" cy="246.4" r="1.1"/><circle cx="551.3" cy="248.4" r="1.1"/><circle cx="551.6" cy="248.6" r="1.1"/><circle cx="552.2" cy="248.3" r="1.1"/><circle cx="560.9" cy="246.5" r="1.1"/><circle cx="556.2" cy="243.9" r="1.1"/><circle cx="548.2" cy="248.7" r="1.1"/><circle cx="553.7" cy="239.6" r="1.1"/><circle cx="552.5" cy="243.0" r="1.1"/><circle cx="555.1" cy="242.5" r="1.1"/><circle cx="559.5" cy="236.0" r="1.1"/><circle cx="550.1" cy="243.3" r="1.1"/><circle cx="558.2" cy="235.6" r="1.1"/><circle cx="547.9" cy="244.3" r="1.1"/><circle cx="554.5" cy="240.5" r="1.1"/><circle cx="550.3" cy="243.2" r="1.1"/><circle cx="552.5" cy="240.6" r="1.1"/><circle cx="551.3" cy="243.4" r="1.1"/><circle cx="551.7" cy="244.1" r="1.1"/><circle cx="557.3" cy="236.0" r="1.1"/><circle cx="549.3" cy="240.6" r="1.1"/><circle cx="548.9" cy="242.0" r="1.1"/><circle cx="557.3" cy="243.1" r="1.1"/><circle cx="556.3" cy="243.1" r="1.1"/><circle cx="553.3" cy="238.8" r="1.1"/><circle cx="559.9" cy="239.3" r="1.1"/><circle cx="548.1" cy="243.8" r="1.1"/><circle cx="551.4" cy="235.8" r="1.1"/><circle cx="554.6" cy="243.9" r="1.1"/><circle cx="559.8" cy="239.1" r="1.1"/><circle cx="554.1" cy="236.4" r="1.1"/><circle cx="558.1" cy="241.0" r="1.1"/><circle cx="556.6" cy="242.9" r="1.1"/><circle cx="552.2" cy="238.6" r="1.1"/><circle cx="559.3" cy="234.2" r="1.1"/><circle cx="557.9" cy="242.2" r="1.1"/><circle cx="553.8" cy="234.7" r="1.1"/><circle cx="555.7" cy="243.0" r="1.1"/><circle cx="554.1" cy="233.1" r="1.1"/><circle cx="551.0" cy="243.8" r="1.1"/><circle cx="551.9" cy="235.4" r="1.1"/><circle cx="559.3" cy="242.5" r="1.1"/><circle cx="549.9" cy="234.2" r="1.1"/></g>
<g fill="#FF4500"><circle cx="574.7" cy="248.8" r="1.1"/><circle cx="566.6" cy="246.6" r="1.1"/><circle cx="584.9" cy="248.1" r="1.1"/><circle cx="579.4" cy="247.4" r="1.1"/><circle cx="565.3" cy="243.7" r="1.1"/><circle cx="571.6" cy="245.0" r="1.1"/><circle cx="579.5" cy="244.4" r="1.1"/><circle cx="572.8" cy="248.4" r="1.1"/><circle cx="565.4" cy="247.7" r="1.1"/><circle cx="567.6" cy="245.5" r="1.1"/><circle cx="572.0" cy="248.4" r="1.1"/><circle cx="580.8" cy="248.4" r="1.1"/><circle cx="577.2" cy="247.8" r="1.1"/><circle cx="573.4" cy="246.1" r="1.1"/><circle cx="572.1" cy="246.7" r="1.1"/><circle cx="579.7" cy="246.2" r="1.1"/><circle cx="575.9" cy="246.6" r="1.1"/><circle cx="579.9" cy="247.4" r="1.1"/><circle cx="579.2" cy="247.3" r="1.1"/><circle cx="582.8" cy="248.0" r="1.1"/><circle cx="582.2" cy="248.3" r="1.1"/><circle cx="578.3" cy="245.0" r="1.1"/><circle cx="570.0" cy="247.1" r="1.1"/><circle cx="577.1" cy="246.7" r="1.1"/><circle cx="580.6" cy="246.7" r="1.1"/><circle cx="579.0" cy="247.3" r="1.1"/><circle cx="572.5" cy="247.5" r="1.1"/><circle cx="573.2" cy="247.5" r="1.1"/><circle cx="578.2" cy="247.0" r="1.1"/><circle cx="583.9" cy="247.1" r="1.1"/><circle cx="580.5" cy="247.4" r="1.1"/><circle cx="571.7" cy="245.5" r="1.1"/><circle cx="563.9" cy="242.0" r="1.1"/><circle cx="575.2" cy="248.4" r="1.1"/><circle cx="584.2" cy="246.5" r="1.1"/><circle cx="574.7" cy="245.1" r="1.1"/><circle cx="575.2" cy="246.2" r="1.1"/><circle cx="579.1" cy="246.9" r="1.1"/><circle cx="581.7" cy="245.3" r="1.1"/><circle cx="574.7" cy="248.6" r="1.1"/><circle cx="567.7" cy="243.7" r="1.1"/><circle cx="578.4" cy="245.6" r="1.1"/><circle cx="565.8" cy="245.5" r="1.1"/><circle cx="585.2" cy="246.2" r="1.1"/><circle cx="569.2" cy="248.3" r="1.1"/><circle cx="572.0" cy="248.2" r="1.1"/><circle cx="572.5" cy="246.2" r="1.1"/><circle cx="578.7" cy="248.6" r="1.1"/><circle cx="568.0" cy="247.7" r="1.1"/><circle cx="579.7" cy="247.3" r="1.1"/><circle cx="567.9" cy="246.0" r="1.1"/><circle cx="581.0" cy="247.7" r="1.1"/><circle cx="565.9" cy="247.5" r="1.1"/><circle cx="580.5" cy="247.8" r="1.1"/><circle cx="573.6" cy="247.6" r="1.1"/><circle cx="575.6" cy="245.5" r="1.1"/><circle cx="570.9" cy="247.9" r="1.1"/><circle cx="577.4" cy="242.4" r="1.1"/><circle cx="573.5" cy="246.9" r="1.1"/><circle cx="569.6" cy="244.6" r="1.1"/><circle cx="581.8" cy="247.6" r="1.1"/><circle cx="571.0" cy="248.5" r="1.1"/><circle cx="571.5" cy="247.7" r="1.1"/><circle cx="568.7" cy="247.3" r="1.1"/><circle cx="563.1" cy="247.4" r="1.1"/><circle cx="579.2" cy="248.1" r="1.1"/><circle cx="569.8" cy="248.5" r="1.1"/><circle cx="573.8" cy="247.0" r="1.1"/><circle cx="577.8" cy="245.6" r="1.1"/><circle cx="571.2" cy="247.3" r="1.1"/><circle cx="564.3" cy="244.4" r="1.1"/><circle cx="581.6" cy="246.7" r="1.1"/><circle cx="566.2" cy="245.2" r="1.1"/><circle cx="581.7" cy="246.4" r="1.1"/><circle cx="563.3" cy="248.6" r="1.1"/><circle cx="584.4" cy="248.5" r="1.1"/><circle cx="565.3" cy="247.8" r="1.1"/><circle cx="566.2" cy="247.3" r="1.1"/><circle cx="570.8" cy="248.4" r="1.1"/><circle cx="566.4" cy="244.5" r="1.1"/><circle cx="566.8" cy="245.2" r="1.1"/><circle cx="583.1" cy="246.3" r="1.1"/><circle cx="578.0" cy="245.4" r="1.1"/><circle cx="583.1" cy="246.1" r="1.1"/><circle cx="567.4" cy="247.7" r="1.1"/><circle cx="578.6" cy="244.2" r="1.1"/><circle cx="572.9" cy="244.8" r="1.1"/><circle cx="582.9" cy="248.1" r="1.1"/><circle cx="568.3" cy="247.0" r="1.1"/><circle cx="566.1" cy="248.2" r="1.1"/><circle cx="573.5" cy="248.0" r="1.1"/><circle cx="566.2" cy="248.8" r="1.1"/><circle cx="575.1" cy="245.9" r="1.1"/><circle cx="582.4" cy="248.7" r="1.1"/><circle cx="573.5" cy="244.0" r="1.1"/><circle cx="575.7" cy="248.7" r="1.1"/><circle cx="581.9" cy="242.2" r="1.1"/><circle cx="572.4" cy="239.0" r="1.1"/><circle cx="564.7" cy="244.2" r="1.1"/><circle cx="577.3" cy="242.0" r="1.1"/><circle cx="578.4" cy="241.7" r="1.1"/><circle cx="570.4" cy="244.0" r="1.1"/><circle cx="574.5" cy="244.3" r="1.1"/><circle cx="583.2" cy="240.5" r="1.1"/><circle cx="577.1" cy="242.6" r="1.1"/><circle cx="582.4" cy="238.5" r="1.1"/><circle cx="573.7" cy="238.9" r="1.1"/><circle cx="580.3" cy="240.9" r="1.1"/><circle cx="572.8" cy="235.9" r="1.1"/><circle cx="575.5" cy="239.7" r="1.1"/><circle cx="569.6" cy="243.4" r="1.1"/><circle cx="572.1" cy="243.4" r="1.1"/><circle cx="569.1" cy="240.7" r="1.1"/><circle cx="584.9" cy="240.7" r="1.1"/><circle cx="580.8" cy="242.1" r="1.1"/><circle cx="570.1" cy="238.4" r="1.1"/><circle cx="576.2" cy="237.8" r="1.1"/><circle cx="580.6" cy="241.9" r="1.1"/><circle cx="582.9" cy="242.6" r="1.1"/><circle cx="564.1" cy="241.1" r="1.1"/><circle cx="563.1" cy="237.8" r="1.1"/><circle cx="583.7" cy="235.3" r="1.1"/><circle cx="577.8" cy="241.7" r="1.1"/><circle cx="583.5" cy="243.1" r="1.1"/><circle cx="576.9" cy="241.7" r="1.1"/><circle cx="578.7" cy="241.9" r="1.1"/><circle cx="578.3" cy="241.6" r="1.1"/><circle cx="578.0" cy="235.9" r="1.1"/><circle cx="580.2" cy="240.1" r="1.1"/><circle cx="567.1" cy="231.9" r="1.1"/><circle cx="583.6" cy="243.0" r="1.1"/><circle cx="571.3" cy="242.1" r="1.1"/><circle cx="580.7" cy="243.4" r="1.1"/><circle cx="568.8" cy="241.3" r="1.1"/><circle cx="572.5" cy="237.9" r="1.1"/><circle cx="572.7" cy="238.1" r="1.1"/><circle cx="584.0" cy="242.0" r="1.1"/><circle cx="563.9" cy="241.3" r="1.1"/><circle cx="581.2" cy="232.7" r="1.1"/><circle cx="583.7" cy="241.4" r="1.1"/><circle cx="563.3" cy="240.0" r="1.1"/><circle cx="576.3" cy="239.2" r="1.1"/><circle cx="585.1" cy="244.1" r="1.1"/><circle cx="572.3" cy="240.3" r="1.1"/><circle cx="577.5" cy="231.9" r="1.1"/><circle cx="566.4" cy="235.9" r="1.1"/><circle cx="565.7" cy="242.3" r="1.1"/><circle cx="565.0" cy="244.2" r="1.1"/><circle cx="565.9" cy="243.7" r="1.1"/><circle cx="568.5" cy="242.6" r="1.1"/><circle cx="567.4" cy="214.4" r="1.1"/><circle cx="586.2" cy="230.3" r="1.1"/></g>
<g fill="#8B0000"><circle cx="588.0" cy="248.7" r="1.1"/><circle cx="600.6" cy="247.2" r="1.1"/><circle cx="599.9" cy="247.7" r="1.1"/><circle cx="588.6" cy="244.0" r="1.1"/><circle cx="595.2" cy="246.1" r="1.1"/><circle cx="603.4" cy="246.0" r="1.1"/><circle cx="599.7" cy="248.7" r="1.1"/><circle cx="587.3" cy="242.3" r="1.1"/><circle cx="601.4" cy="245.2" r="1.1"/><circle cx="588.5" cy="248.5" r="1.1"/><circle cx="590.0" cy="247.3" r="1.1"/><circle cx="602.2" cy="245.1" r="1.1"/><circle cx="593.5" cy="248.0" r="1.1"/><circle cx="597.2" cy="248.8" r="1.1"/><circle cx="589.6" cy="245.3" r="1.1"/><circle cx="601.1" cy="247.4" r="1.1"/><circle cx="598.1" cy="246.5" r="1.1"/><circle cx="594.4" cy="246.1" r="1.1"/><circle cx="603.6" cy="245.5" r="1.1"/><circle cx="600.8" cy="245.9" r="1.1"/><circle cx="588.2" cy="246.9" r="1.1"/><circle cx="604.1" cy="248.0" r="1.1"/><circle cx="592.9" cy="247.5" r="1.1"/><circle cx="597.7" cy="244.3" r="1.1"/><circle cx="597.6" cy="244.1" r="1.1"/><circle cx="592.5" cy="248.2" r="1.1"/><circle cx="593.7" cy="244.1" r="1.1"/><circle cx="599.1" cy="246.6" r="1.1"/><circle cx="601.2" cy="244.5" r="1.1"/><circle cx="592.1" cy="245.6" r="1.1"/><circle cx="594.5" cy="246.9" r="1.1"/><circle cx="597.4" cy="248.8" r="1.1"/><circle cx="587.8" cy="246.7" r="1.1"/><circle cx="601.7" cy="244.0" r="1.1"/><circle cx="597.1" cy="246.9" r="1.1"/><circle cx="591.9" cy="244.2" r="1.1"/><circle cx="599.1" cy="246.1" r="1.1"/><circle cx="603.1" cy="245.2" r="1.1"/><circle cx="596.8" cy="248.3" r="1.1"/><circle cx="601.1" cy="248.0" r="1.1"/><circle cx="603.4" cy="247.6" r="1.1"/><circle cx="591.2" cy="244.9" r="1.1"/><circle cx="595.2" cy="245.9" r="1.1"/><circle cx="590.7" cy="246.5" r="1.1"/><circle cx="601.0" cy="248.7" r="1.1"/><circle cx="595.1" cy="244.6" r="1.1"/><circle cx="600.6" cy="245.0" r="1.1"/><circle cx="591.2" cy="246.5" r="1.1"/><circle cx="602.6" cy="244.1" r="1.1"/><circle cx="596.2" cy="246.3" r="1.1"/><circle cx="590.4" cy="245.5" r="1.1"/><circle cx="590.5" cy="248.4" r="1.1"/><circle cx="593.4" cy="247.2" r="1.1"/><circle cx="597.0" cy="245.3" r="1.1"/><circle cx="589.7" cy="246.4" r="1.1"/><circle cx="587.9" cy="247.1" r="1.1"/><circle cx="589.0" cy="246.4" r="1.1"/><circle cx="598.2" cy="248.8" r="1.1"/><circle cx="597.6" cy="248.5" r="1.1"/><circle cx="593.1" cy="247.4" r="1.1"/><circle cx="587.7" cy="248.4" r="1.1"/><circle cx="604.4" cy="248.8" r="1.1"/><circle cx="597.0" cy="246.9" r="1.1"/><circle cx="591.7" cy="246.7" r="1.1"/><circle cx="603.7" cy="248.4" r="1.1"/><circle cx="600.5" cy="246.2" r="1.1"/><circle cx="591.5" cy="246.1" r="1.1"/><circle cx="587.8" cy="243.0" r="1.1"/><circle cx="588.6" cy="248.4" r="1.1"/><circle cx="588.0" cy="247.3" r="1.1"/><circle cx="595.1" cy="244.1" r="1.1"/><circle cx="603.7" cy="247.1" r="1.1"/><circle cx="597.6" cy="248.1" r="1.1"/><circle cx="594.1" cy="248.4" r="1.1"/><circle cx="591.6" cy="244.2" r="1.1"/><circle cx="597.0" cy="244.5" r="1.1"/><circle cx="603.8" cy="242.0" r="1.1"/><circle cx="594.0" cy="242.2" r="1.1"/><circle cx="589.9" cy="240.0" r="1.1"/><circle cx="604.5" cy="244.2" r="1.1"/><circle cx="587.8" cy="236.2" r="1.1"/><circle cx="593.3" cy="236.9" r="1.1"/><circle cx="602.9" cy="243.9" r="1.1"/><circle cx="587.9" cy="243.5" r="1.1"/><circle cx="599.5" cy="243.1" r="1.1"/><circle cx="604.3" cy="242.0" r="1.1"/><circle cx="600.3" cy="233.8" r="1.1"/><circle cx="598.9" cy="244.1" r="1.1"/><circle cx="597.5" cy="237.8" r="1.1"/><circle cx="588.9" cy="242.9" r="1.1"/><circle cx="591.6" cy="238.2" r="1.1"/><circle cx="595.5" cy="233.0" r="1.1"/><circle cx="591.3" cy="234.7" r="1.1"/><circle cx="599.0" cy="233.8" r="1.1"/><circle cx="590.5" cy="242.6" r="1.1"/><circle cx="591.0" cy="244.0" r="1.1"/><circle cx="602.3" cy="244.1" r="1.1"/><circle cx="589.5" cy="243.8" r="1.1"/><circle cx="588.8" cy="240.0" r="1.1"/><circle cx="601.8" cy="244.0" r="1.1"/><circle cx="595.0" cy="241.9" r="1.1"/><circle cx="601.5" cy="238.5" r="1.1"/><circle cx="598.1" cy="240.4" r="1.1"/><circle cx="591.0" cy="233.7" r="1.1"/><circle cx="596.8" cy="242.6" r="1.1"/><circle cx="602.3" cy="233.8" r="1.1"/><circle cx="594.3" cy="237.2" r="1.1"/><circle cx="591.8" cy="234.2" r="1.1"/><circle cx="593.0" cy="243.5" r="1.1"/><circle cx="595.7" cy="234.6" r="1.1"/><circle cx="602.9" cy="238.1" r="1.1"/><circle cx="604.2" cy="232.5" r="1.1"/><circle cx="598.8" cy="243.8" r="1.1"/><circle cx="595.5" cy="235.9" r="1.1"/><circle cx="591.6" cy="237.6" r="1.1"/><circle cx="593.5" cy="235.6" r="1.1"/><circle cx="604.6" cy="244.4" r="1.1"/><circle cx="588.8" cy="244.0" r="1.1"/><circle cx="602.8" cy="237.6" r="1.1"/><circle cx="604.2" cy="216.0" r="1.1"/><circle cx="603.1" cy="225.4" r="1.1"/><circle cx="598.2" cy="231.1" r="1.1"/></g>
<g fill="#FF4500"><circle cx="618.1" cy="248.6" r="1.1"/><circle cx="606.4" cy="246.8" r="1.1"/><circle cx="607.9" cy="248.1" r="1.1"/><circle cx="606.2" cy="246.7" r="1.1"/><circle cx="608.5" cy="247.3" r="1.1"/><circle cx="611.5" cy="246.2" r="1.1"/><circle cx="613.2" cy="247.4" r="1.1"/><circle cx="607.9" cy="247.9" r="1.1"/><circle cx="614.9" cy="247.0" r="1.1"/><circle cx="608.6" cy="244.9" r="1.1"/><circle cx="613.6" cy="247.9" r="1.1"/><circle cx="612.2" cy="248.3" r="1.1"/><circle cx="613.7" cy="248.6" r="1.1"/><circle cx="614.8" cy="247.2" r="1.1"/><circle cx="608.7" cy="247.6" r="1.1"/><circle cx="607.0" cy="245.8" r="1.1"/><circle cx="615.0" cy="248.6" r="1.1"/><circle cx="606.9" cy="246.3" r="1.1"/><circle cx="616.5" cy="248.0" r="1.1"/><circle cx="616.7" cy="246.7" r="1.1"/><circle cx="617.3" cy="248.4" r="1.1"/><circle cx="612.0" cy="248.8" r="1.1"/><circle cx="608.5" cy="247.5" r="1.1"/><circle cx="616.3" cy="247.4" r="1.1"/><circle cx="610.7" cy="247.8" r="1.1"/><circle cx="613.5" cy="247.7" r="1.1"/><circle cx="611.6" cy="245.8" r="1.1"/><circle cx="612.5" cy="248.8" r="1.1"/><circle cx="616.2" cy="246.0" r="1.1"/><circle cx="616.8" cy="246.1" r="1.1"/><circle cx="610.9" cy="247.1" r="1.1"/><circle cx="615.4" cy="245.3" r="1.1"/><circle cx="617.8" cy="244.1" r="1.1"/><circle cx="612.2" cy="246.9" r="1.1"/><circle cx="612.8" cy="245.8" r="1.1"/><circle cx="606.5" cy="248.6" r="1.1"/><circle cx="608.4" cy="247.1" r="1.1"/><circle cx="607.5" cy="248.5" r="1.1"/><circle cx="606.6" cy="248.9" r="1.1"/><circle cx="607.4" cy="244.2" r="1.1"/><circle cx="606.4" cy="248.3" r="1.1"/><circle cx="613.5" cy="247.3" r="1.1"/><circle cx="614.8" cy="246.1" r="1.1"/><circle cx="607.5" cy="247.4" r="1.1"/><circle cx="606.8" cy="246.1" r="1.1"/><circle cx="607.7" cy="245.9" r="1.1"/><circle cx="609.6" cy="245.9" r="1.1"/><circle cx="607.7" cy="248.7" r="1.1"/><circle cx="613.4" cy="247.7" r="1.1"/><circle cx="616.7" cy="248.1" r="1.1"/><circle cx="615.3" cy="246.9" r="1.1"/><circle cx="608.2" cy="246.2" r="1.1"/><circle cx="610.9" cy="246.1" r="1.1"/><circle cx="611.3" cy="243.6" r="1.1"/><circle cx="611.0" cy="247.2" r="1.1"/><circle cx="615.7" cy="244.1" r="1.1"/><circle cx="609.1" cy="238.5" r="1.1"/><circle cx="611.5" cy="238.4" r="1.1"/><circle cx="616.0" cy="244.3" r="1.1"/><circle cx="616.1" cy="243.9" r="1.1"/><circle cx="606.9" cy="243.5" r="1.1"/><circle cx="617.9" cy="240.8" r="1.1"/><circle cx="609.2" cy="244.1" r="1.1"/><circle cx="613.9" cy="239.7" r="1.1"/><circle cx="612.7" cy="238.9" r="1.1"/><circle cx="612.4" cy="239.8" r="1.1"/><circle cx="618.0" cy="233.6" r="1.1"/><circle cx="617.6" cy="243.0" r="1.1"/><circle cx="616.1" cy="241.9" r="1.1"/><circle cx="617.0" cy="243.8" r="1.1"/><circle cx="609.4" cy="242.0" r="1.1"/><circle cx="609.5" cy="242.3" r="1.1"/><circle cx="617.5" cy="241.1" r="1.1"/><circle cx="609.3" cy="241.8" r="1.1"/><circle cx="611.5" cy="240.8" r="1.1"/><circle cx="609.7" cy="244.2" r="1.1"/><circle cx="614.1" cy="237.9" r="1.1"/><circle cx="613.5" cy="232.8" r="1.1"/><circle cx="612.5" cy="244.2" r="1.1"/><circle cx="611.9" cy="237.2" r="1.1"/><circle cx="608.0" cy="241.0" r="1.1"/><circle cx="607.8" cy="233.0" r="1.1"/><circle cx="611.2" cy="237.7" r="1.1"/><circle cx="609.2" cy="237.6" r="1.1"/><circle cx="616.4" cy="241.1" r="1.1"/><circle cx="613.2" cy="241.7" r="1.1"/><circle cx="607.2" cy="224.5" r="1.1"/><circle cx="608.0" cy="231.4" r="1.1"/></g>
<g fill="#8B0000"><circle cx="623.0" cy="246.3" r="1.1"/><circle cx="622.1" cy="247.7" r="1.1"/><circle cx="622.5" cy="245.1" r="1.1"/><circle cx="621.4" cy="246.7" r="1.1"/><circle cx="621.1" cy="247.0" r="1.1"/><circle cx="621.8" cy="248.3" r="1.1"/><circle cx="622.7" cy="245.9" r="1.1"/><circle cx="624.0" cy="246.5" r="1.1"/><circle cx="621.1" cy="248.7" r="1.1"/><circle cx="621.3" cy="246.1" r="1.1"/><circle cx="624.5" cy="247.8" r="1.1"/><circle cx="620.7" cy="247.6" r="1.1"/><circle cx="620.3" cy="244.7" r="1.1"/><circle cx="620.3" cy="247.0" r="1.1"/><circle cx="621.8" cy="246.9" r="1.1"/><circle cx="620.5" cy="245.0" r="1.1"/><circle cx="621.0" cy="247.3" r="1.1"/><circle cx="620.7" cy="244.9" r="1.1"/><circle cx="621.6" cy="247.8" r="1.1"/><circle cx="622.8" cy="246.6" r="1.1"/><circle cx="623.9" cy="245.8" r="1.1"/><circle cx="623.4" cy="247.5" r="1.1"/><circle cx="623.4" cy="246.1" r="1.1"/><circle cx="623.6" cy="248.7" r="1.1"/><circle cx="624.2" cy="242.5" r="1.1"/><circle cx="624.0" cy="233.1" r="1.1"/><circle cx="622.7" cy="243.0" r="1.1"/><circle cx="624.4" cy="240.6" r="1.1"/><circle cx="621.9" cy="241.4" r="1.1"/><circle cx="624.0" cy="243.1" r="1.1"/><circle cx="621.7" cy="241.7" r="1.1"/><circle cx="622.1" cy="240.1" r="1.1"/><circle cx="621.3" cy="242.7" r="1.1"/><circle cx="622.6" cy="239.3" r="1.1"/><circle cx="621.5" cy="239.2" r="1.1"/><circle cx="623.9" cy="243.1" r="1.1"/><circle cx="622.0" cy="240.6" r="1.1"/><circle cx="621.4" cy="235.1" r="1.1"/><circle cx="622.6" cy="233.8" r="1.1"/></g>
<g fill="#FF4500"><circle cx="634.5" cy="246.0" r="1.1"/><circle cx="630.8" cy="244.0" r="1.1"/><circle cx="638.3" cy="245.9" r="1.1"/><circle cx="629.1" cy="245.5" r="1.1"/><circle cx="632.3" cy="243.4" r="1.1"/><circle cx="626.9" cy="248.6" r="1.1"/><circle cx="634.3" cy="248.7" r="1.1"/><circle cx="637.3" cy="243.2" r="1.1"/><circle cx="633.9" cy="248.8" r="1.1"/><circle cx="633.6" cy="245.8" r="1.1"/><circle cx="636.0" cy="248.8" r="1.1"/><circle cx="634.7" cy="247.0" r="1.1"/><circle cx="631.2" cy="247.3" r="1.1"/><circle cx="633.7" cy="245.3" r="1.1"/><circle cx="627.6" cy="247.6" r="1.1"/><circle cx="634.2" cy="247.1" r="1.1"/><circle cx="634.4" cy="247.0" r="1.1"/><circle cx="633.2" cy="244.1" r="1.1"/><circle cx="632.5" cy="244.4" r="1.1"/><circle cx="631.1" cy="242.9" r="1.1"/><circle cx="633.8" cy="242.9" r="1.1"/><circle cx="630.7" cy="248.2" r="1.1"/><circle cx="640.2" cy="247.4" r="1.1"/><circle cx="627.8" cy="247.5" r="1.1"/><circle cx="639.0" cy="246.2" r="1.1"/><circle cx="640.4" cy="247.1" r="1.1"/><circle cx="638.9" cy="244.5" r="1.1"/><circle cx="630.3" cy="247.6" r="1.1"/><circle cx="633.5" cy="248.2" r="1.1"/><circle cx="628.8" cy="247.2" r="1.1"/><circle cx="635.2" cy="248.8" r="1.1"/><circle cx="640.4" cy="247.0" r="1.1"/><circle cx="635.3" cy="247.4" r="1.1"/><circle cx="637.5" cy="246.3" r="1.1"/><circle cx="630.6" cy="248.2" r="1.1"/><circle cx="630.6" cy="248.8" r="1.1"/><circle cx="638.2" cy="248.7" r="1.1"/><circle cx="629.0" cy="245.6" r="1.1"/><circle cx="633.3" cy="246.9" r="1.1"/><circle cx="635.4" cy="247.0" r="1.1"/><circle cx="633.8" cy="248.2" r="1.1"/><circle cx="632.1" cy="245.6" r="1.1"/><circle cx="627.9" cy="248.8" r="1.1"/><circle cx="627.7" cy="246.5" r="1.1"/><circle cx="627.6" cy="245.3" r="1.1"/><circle cx="638.0" cy="247.4" r="1.1"/><circle cx="635.0" cy="246.2" r="1.1"/><circle cx="626.4" cy="248.5" r="1.1"/><circle cx="637.2" cy="248.0" r="1.1"/><circle cx="631.3" cy="247.1" r="1.1"/><circle cx="628.6" cy="245.3" r="1.1"/><circle cx="639.1" cy="248.7" r="1.1"/><circle cx="634.5" cy="247.7" r="1.1"/><circle cx="631.7" cy="247.3" r="1.1"/><circle cx="627.0" cy="246.6" r="1.1"/><circle cx="639.9" cy="246.3" r="1.1"/><circle cx="632.5" cy="246.7" r="1.1"/><circle cx="626.8" cy="247.5" r="1.1"/><circle cx="639.5" cy="247.6" r="1.1"/><circle cx="639.1" cy="247.5" r="1.1"/><circle cx="637.9" cy="247.1" r="1.1"/><circle cx="639.9" cy="247.7" r="1.1"/><circle cx="633.3" cy="245.6" r="1.1"/><circle cx="629.7" cy="244.2" r="1.1"/><circle cx="636.5" cy="239.3" r="1.1"/><circle cx="630.6" cy="236.1" r="1.1"/><circle cx="633.1" cy="243.7" r="1.1"/><circle cx="629.7" cy="243.2" r="1.1"/><circle cx="631.3" cy="234.8" r="1.1"/><circle cx="640.1" cy="235.2" r="1.1"/><circle cx="634.2" cy="237.6" r="1.1"/><circle cx="633.8" cy="232.5" r="1.1"/><circle cx="632.0" cy="239.2" r="1.1"/><circle cx="638.0" cy="232.9" r="1.1"/><circle cx="629.7" cy="238.7" r="1.1"/><circle cx="630.3" cy="235.3" r="1.1"/><circle cx="626.7" cy="236.5" r="1.1"/><circle cx="631.1" cy="242.2" r="1.1"/><circle cx="636.3" cy="234.2" r="1.1"/><circle cx="638.1" cy="237.2" r="1.1"/><circle cx="632.5" cy="233.1" r="1.1"/><circle cx="637.7" cy="243.5" r="1.1"/><circle cx="631.2" cy="234.3" r="1.1"/><circle cx="631.6" cy="242.6" r="1.1"/><circle cx="629.2" cy="244.2" r="1.1"/><circle cx="633.4" cy="244.2" r="1.1"/><circle cx="632.7" cy="236.3" r="1.1"/><circle cx="636.3" cy="233.3" r="1.1"/><circle cx="639.1" cy="237.0" r="1.1"/><circle cx="631.5" cy="241.5" r="1.1"/><circle cx="634.9" cy="236.7" r="1.1"/><circle cx="638.7" cy="235.9" r="1.1"/><circle cx="633.5" cy="232.9" r="1.1"/><circle cx="630.1" cy="241.1" r="1.1"/><circle cx="631.7" cy="243.0" r="1.1"/><circle cx="634.3" cy="242.1" r="1.1"/><circle cx="631.8" cy="238.0" r="1.1"/><circle cx="638.4" cy="234.9" r="1.1"/><circle cx="635.7" cy="238.2" r="1.1"/><circle cx="634.2" cy="232.3" r="1.1"/><circle cx="633.4" cy="238.8" r="1.1"/><circle cx="627.3" cy="220.4" r="1.1"/><circle cx="637.4" cy="221.8" r="1.1"/><circle cx="639.9" cy="223.4" r="1.1"/><circle cx="638.8" cy="231.4" r="1.1"/></g>
<g fill="#8B0000"><circle cx="647.4" cy="248.6" r="1.1"/><circle cx="646.0" cy="248.0" r="1.1"/><circle cx="646.9" cy="246.0" r="1.1"/><circle cx="649.0" cy="246.0" r="1.1"/><circle cx="657.2" cy="245.2" r="1.1"/><circle cx="656.8" cy="246.5" r="1.1"/><circle cx="642.6" cy="247.5" r="1.1"/><circle cx="653.7" cy="247.4" r="1.1"/><circle cx="649.2" cy="247.6" r="1.1"/><circle cx="653.4" cy="246.8" r="1.1"/><circle cx="656.6" cy="248.3" r="1.1"/><circle cx="648.1" cy="247.0" r="1.1"/><circle cx="644.1" cy="247.8" r="1.1"/><circle cx="657.7" cy="247.7" r="1.1"/><circle cx="642.8" cy="248.5" r="1.1"/><circle cx="642.8" cy="244.9" r="1.1"/><circle cx="647.3" cy="248.0" r="1.1"/><circle cx="648.6" cy="247.4" r="1.1"/><circle cx="653.0" cy="246.7" r="1.1"/><circle cx="645.2" cy="248.3" r="1.1"/><circle cx="654.4" cy="247.1" r="1.1"/><circle cx="646.5" cy="246.1" r="1.1"/><circle cx="648.1" cy="245.3" r="1.1"/><circle cx="642.1" cy="247.3" r="1.1"/><circle cx="647.0" cy="246.7" r="1.1"/><circle cx="642.8" cy="245.1" r="1.1"/><circle cx="642.9" cy="246.8" r="1.1"/><circle cx="646.3" cy="246.1" r="1.1"/><circle cx="645.7" cy="245.4" r="1.1"/><circle cx="657.7" cy="246.0" r="1.1"/><circle cx="654.0" cy="248.9" r="1.1"/><circle cx="648.8" cy="247.8" r="1.1"/><circle cx="646.9" cy="248.8" r="1.1"/><circle cx="643.6" cy="244.1" r="1.1"/><circle cx="658.0" cy="246.4" r="1.1"/><circle cx="653.9" cy="248.0" r="1.1"/><circle cx="652.8" cy="248.5" r="1.1"/><circle cx="649.8" cy="244.1" r="1.1"/><circle cx="649.4" cy="245.2" r="1.1"/><circle cx="650.9" cy="247.6" r="1.1"/><circle cx="655.1" cy="247.7" r="1.1"/><circle cx="642.8" cy="248.3" r="1.1"/><circle cx="646.6" cy="247.5" r="1.1"/><circle cx="651.4" cy="244.5" r="1.1"/><circle cx="651.4" cy="245.3" r="1.1"/><circle cx="646.4" cy="248.2" r="1.1"/><circle cx="649.1" cy="246.6" r="1.1"/><circle cx="645.5" cy="248.0" r="1.1"/><circle cx="654.2" cy="248.4" r="1.1"/><circle cx="653.6" cy="247.6" r="1.1"/><circle cx="650.9" cy="248.7" r="1.1"/><circle cx="649.7" cy="247.0" r="1.1"/><circle cx="647.2" cy="246.7" r="1.1"/><circle cx="657.2" cy="247.9" r="1.1"/><circle cx="647.8" cy="246.8" r="1.1"/><circle cx="656.0" cy="246.3" r="1.1"/><circle cx="645.0" cy="244.8" r="1.1"/><circle cx="653.5" cy="247.6" r="1.1"/><circle cx="655.2" cy="246.6" r="1.1"/><circle cx="656.3" cy="247.2" r="1.1"/><circle cx="648.3" cy="247.3" r="1.1"/><circle cx="645.6" cy="247.5" r="1.1"/><circle cx="645.5" cy="247.0" r="1.1"/><circle cx="654.1" cy="248.1" r="1.1"/><circle cx="647.6" cy="247.7" r="1.1"/><circle cx="650.1" cy="248.5" r="1.1"/><circle cx="643.3" cy="247.9" r="1.1"/><circle cx="642.3" cy="247.7" r="1.1"/><circle cx="643.5" cy="244.7" r="1.1"/><circle cx="654.4" cy="248.7" r="1.1"/><circle cx="644.0" cy="245.6" r="1.1"/><circle cx="650.5" cy="248.5" r="1.1"/><circle cx="651.4" cy="247.4" r="1.1"/><circle cx="642.2" cy="248.2" r="1.1"/><circle cx="653.1" cy="244.0" r="1.1"/><circle cx="658.1" cy="241.9" r="1.1"/><circle cx="646.4" cy="242.1" r="1.1"/><circle cx="644.5" cy="236.7" r="1.1"/><circle cx="656.5" cy="243.0" r="1.1"/><circle cx="645.3" cy="237.8" r="1.1"/><circle cx="656.6" cy="242.0" r="1.1"/><circle cx="645.0" cy="244.0" r="1.1"/><circle cx="656.3" cy="243.1" r="1.1"/><circle cx="647.7" cy="242.8" r="1.1"/><circle cx="656.2" cy="235.1" r="1.1"/><circle cx="648.4" cy="238.2" r="1.1"/><circle cx="648.4" cy="241.2" r="1.1"/><circle cx="646.2" cy="243.4" r="1.1"/><circle cx="652.8" cy="241.3" r="1.1"/><circle cx="654.2" cy="243.3" r="1.1"/><circle cx="658.3" cy="243.9" r="1.1"/><circle cx="650.6" cy="240.6" r="1.1"/><circle cx="647.2" cy="234.3" r="1.1"/><circle cx="643.5" cy="241.5" r="1.1"/><circle cx="644.9" cy="242.4" r="1.1"/><circle cx="658.7" cy="240.0" r="1.1"/><circle cx="645.4" cy="239.9" r="1.1"/><circle cx="642.1" cy="242.7" r="1.1"/><circle cx="656.7" cy="243.5" r="1.1"/><circle cx="649.4" cy="243.1" r="1.1"/><circle cx="653.4" cy="237.5" r="1.1"/><circle cx="649.3" cy="240.8" r="1.1"/><circle cx="649.6" cy="238.5" r="1.1"/><circle cx="656.2" cy="242.2" r="1.1"/><circle cx="644.9" cy="243.9" r="1.1"/><circle cx="649.7" cy="237.7" r="1.1"/><circle cx="648.1" cy="241.3" r="1.1"/><circle cx="643.6" cy="235.5" r="1.1"/><circle cx="650.0" cy="238.2" r="1.1"/><circle cx="657.6" cy="244.3" r="1.1"/><circle cx="658.8" cy="243.6" r="1.1"/><circle cx="652.7" cy="244.2" r="1.1"/><circle cx="643.1" cy="243.3" r="1.1"/><circle cx="652.5" cy="242.3" r="1.1"/><circle cx="651.9" cy="237.8" r="1.1"/><circle cx="650.3" cy="244.2" r="1.1"/><circle cx="647.2" cy="242.0" r="1.1"/><circle cx="657.2" cy="238.6" r="1.1"/><circle cx="655.8" cy="220.0" r="1.1"/><circle cx="654.6" cy="225.8" r="1.1"/></g>
<g fill="#FF4500"><circle cx="670.8" cy="247.3" r="1.1"/><circle cx="667.4" cy="248.6" r="1.1"/><circle cx="666.3" cy="245.7" r="1.1"/><circle cx="669.3" cy="247.0" r="1.1"/><circle cx="669.1" cy="246.2" r="1.1"/><circle cx="666.6" cy="247.3" r="1.1"/><circle cx="673.9" cy="247.7" r="1.1"/><circle cx="668.9" cy="247.8" r="1.1"/><circle cx="664.5" cy="245.0" r="1.1"/><circle cx="662.2" cy="245.6" r="1.1"/><circle cx="668.0" cy="247.0" r="1.1"/><circle cx="668.9" cy="248.5" r="1.1"/><circle cx="662.5" cy="248.4" r="1.1"/><circle cx="668.3" cy="245.6" r="1.1"/><circle cx="666.8" cy="248.0" r="1.1"/><circle cx="661.9" cy="248.3" r="1.1"/><circle cx="668.9" cy="244.2" r="1.1"/><circle cx="671.3" cy="247.0" r="1.1"/><circle cx="675.4" cy="248.8" r="1.1"/><circle cx="671.4" cy="247.6" r="1.1"/><circle cx="666.6" cy="245.0" r="1.1"/><circle cx="663.3" cy="246.0" r="1.1"/><circle cx="672.2" cy="245.7" r="1.1"/><circle cx="662.8" cy="248.1" r="1.1"/><circle cx="664.3" cy="248.7" r="1.1"/><circle cx="666.3" cy="248.0" r="1.1"/><circle cx="663.9" cy="245.5" r="1.1"/><circle cx="665.2" cy="248.5" r="1.1"/><circle cx="673.9" cy="248.2" r="1.1"/><circle cx="669.9" cy="246.3" r="1.1"/><circle cx="674.3" cy="246.6" r="1.1"/><circle cx="673.6" cy="246.5" r="1.1"/><circle cx="665.8" cy="246.8" r="1.1"/><circle cx="672.0" cy="245.2" r="1.1"/><circle cx="662.6" cy="246.9" r="1.1"/><circle cx="666.3" cy="244.6" r="1.1"/><circle cx="671.4" cy="248.4" r="1.1"/><circle cx="661.4" cy="242.7" r="1.1"/><circle cx="668.9" cy="247.9" r="1.1"/><circle cx="672.6" cy="248.2" r="1.1"/><circle cx="670.7" cy="244.5" r="1.1"/><circle cx="664.5" cy="245.1" r="1.1"/><circle cx="673.1" cy="247.9" r="1.1"/><circle cx="669.3" cy="246.3" r="1.1"/><circle cx="662.4" cy="248.5" r="1.1"/><circle cx="672.6" cy="248.5" r="1.1"/><circle cx="665.1" cy="247.6" r="1.1"/><circle cx="670.9" cy="245.9" r="1.1"/><circle cx="673.7" cy="247.8" r="1.1"/><circle cx="668.7" cy="247.9" r="1.1"/><circle cx="674.7" cy="247.2" r="1.1"/><circle cx="661.0" cy="244.6" r="1.1"/><circle cx="668.2" cy="248.1" r="1.1"/><circle cx="673.6" cy="247.7" r="1.1"/><circle cx="663.5" cy="248.7" r="1.1"/><circle cx="672.8" cy="248.2" r="1.1"/><circle cx="667.8" cy="247.8" r="1.1"/><circle cx="663.1" cy="246.6" r="1.1"/><circle cx="673.6" cy="247.4" r="1.1"/><circle cx="669.8" cy="246.8" r="1.1"/><circle cx="664.0" cy="246.9" r="1.1"/><circle cx="673.9" cy="247.8" r="1.1"/><circle cx="663.3" cy="248.2" r="1.1"/><circle cx="666.1" cy="248.5" r="1.1"/><circle cx="666.5" cy="245.6" r="1.1"/><circle cx="660.9" cy="238.7" r="1.1"/><circle cx="665.7" cy="241.4" r="1.1"/><circle cx="675.3" cy="240.2" r="1.1"/><circle cx="670.7" cy="233.9" r="1.1"/><circle cx="664.8" cy="237.3" r="1.1"/><circle cx="664.7" cy="240.6" r="1.1"/><circle cx="668.6" cy="241.3" r="1.1"/><circle cx="675.4" cy="244.2" r="1.1"/><circle cx="672.1" cy="241.3" r="1.1"/><circle cx="672.2" cy="243.7" r="1.1"/><circle cx="670.1" cy="241.9" r="1.1"/><circle cx="664.9" cy="238.9" r="1.1"/><circle cx="673.6" cy="243.2" r="1.1"/><circle cx="670.8" cy="244.1" r="1.1"/><circle cx="672.0" cy="237.9" r="1.1"/><circle cx="668.3" cy="242.8" r="1.1"/><circle cx="666.0" cy="241.9" r="1.1"/><circle cx="666.8" cy="241.2" r="1.1"/><circle cx="665.6" cy="238.5" r="1.1"/><circle cx="667.9" cy="244.4" r="1.1"/><circle cx="664.4" cy="238.9" r="1.1"/><circle cx="665.9" cy="236.5" r="1.1"/><circle cx="660.9" cy="233.5" r="1.1"/><circle cx="667.5" cy="243.7" r="1.1"/><circle cx="669.2" cy="240.0" r="1.1"/><circle cx="663.3" cy="237.9" r="1.1"/><circle cx="665.3" cy="237.8" r="1.1"/><circle cx="668.9" cy="242.7" r="1.1"/><circle cx="665.8" cy="244.1" r="1.1"/><circle cx="669.4" cy="244.0" r="1.1"/><circle cx="669.3" cy="235.0" r="1.1"/><circle cx="666.0" cy="244.4" r="1.1"/><circle cx="667.1" cy="243.0" r="1.1"/><circle cx="661.8" cy="243.7" r="1.1"/><circle cx="674.0" cy="240.5" r="1.1"/><circle cx="664.6" cy="237.4" r="1.1"/><circle cx="660.3" cy="230.8" r="1.1"/><circle cx="661.6" cy="230.2" r="1.1"/><circle cx="673.4" cy="226.1" r="1.1"/></g>
<g fill="#8B0000"><circle cx="677.2" cy="248.2" r="1.1"/><circle cx="681.5" cy="247.8" r="1.1"/><circle cx="678.5" cy="247.1" r="1.1"/><circle cx="680.9" cy="247.5" r="1.1"/><circle cx="682.5" cy="247.9" r="1.1"/><circle cx="681.7" cy="247.9" r="1.1"/><circle cx="683.2" cy="247.5" r="1.1"/><circle cx="682.2" cy="248.0" r="1.1"/><circle cx="682.6" cy="248.3" r="1.1"/><circle cx="678.3" cy="248.1" r="1.1"/><circle cx="680.5" cy="247.7" r="1.1"/><circle cx="682.9" cy="246.3" r="1.1"/><circle cx="678.4" cy="246.3" r="1.1"/><circle cx="681.2" cy="246.9" r="1.1"/><circle cx="679.7" cy="245.1" r="1.1"/><circle cx="677.5" cy="247.9" r="1.1"/><circle cx="679.7" cy="246.8" r="1.1"/><circle cx="679.2" cy="245.5" r="1.1"/><circle cx="680.2" cy="247.9" r="1.1"/><circle cx="680.0" cy="247.3" r="1.1"/><circle cx="677.2" cy="247.7" r="1.1"/><circle cx="683.3" cy="246.0" r="1.1"/><circle cx="677.5" cy="247.4" r="1.1"/><circle cx="679.2" cy="245.8" r="1.1"/><circle cx="677.7" cy="246.2" r="1.1"/><circle cx="681.9" cy="248.1" r="1.1"/><circle cx="677.7" cy="247.7" r="1.1"/><circle cx="680.5" cy="247.8" r="1.1"/><circle cx="680.8" cy="246.4" r="1.1"/><circle cx="680.9" cy="245.4" r="1.1"/><circle cx="679.2" cy="247.6" r="1.1"/><circle cx="678.7" cy="242.8" r="1.1"/><circle cx="681.9" cy="242.6" r="1.1"/><circle cx="679.0" cy="243.0" r="1.1"/><circle cx="683.3" cy="243.0" r="1.1"/><circle cx="678.9" cy="240.1" r="1.1"/><circle cx="683.0" cy="240.9" r="1.1"/><circle cx="677.2" cy="233.3" r="1.1"/><circle cx="681.2" cy="240.4" r="1.1"/><circle cx="679.4" cy="243.0" r="1.1"/><circle cx="678.5" cy="244.4" r="1.1"/><circle cx="677.7" cy="242.9" r="1.1"/><circle cx="677.5" cy="233.4" r="1.1"/><circle cx="680.6" cy="240.6" r="1.1"/><circle cx="683.0" cy="235.1" r="1.1"/><circle cx="678.0" cy="238.9" r="1.1"/><circle cx="681.7" cy="234.9" r="1.1"/><circle cx="678.1" cy="244.0" r="1.1"/><circle cx="678.6" cy="243.1" r="1.1"/><circle cx="683.7" cy="208.1" r="1.1"/><circle cx="681.0" cy="227.4" r="1.1"/></g>
<g fill="#FF4500"><circle cx="690.3" cy="245.9" r="1.1"/><circle cx="687.9" cy="248.5" r="1.1"/><circle cx="687.7" cy="248.0" r="1.1"/><circle cx="692.6" cy="246.2" r="1.1"/><circle cx="685.5" cy="245.7" r="1.1"/><circle cx="690.4" cy="246.3" r="1.1"/><circle cx="685.5" cy="244.7" r="1.1"/><circle cx="689.7" cy="245.9" r="1.1"/><circle cx="692.9" cy="244.1" r="1.1"/><circle cx="690.3" cy="245.8" r="1.1"/><circle cx="687.2" cy="248.6" r="1.1"/><circle cx="688.6" cy="247.0" r="1.1"/><circle cx="691.4" cy="248.7" r="1.1"/><circle cx="690.4" cy="247.2" r="1.1"/><circle cx="686.8" cy="246.4" r="1.1"/><circle cx="689.8" cy="241.1" r="1.1"/><circle cx="692.3" cy="246.1" r="1.1"/><circle cx="687.2" cy="244.7" r="1.1"/><circle cx="687.4" cy="248.8" r="1.1"/><circle cx="687.8" cy="244.2" r="1.1"/><circle cx="686.4" cy="243.6" r="1.1"/><circle cx="690.7" cy="248.4" r="1.1"/><circle cx="689.9" cy="246.6" r="1.1"/><circle cx="692.4" cy="247.3" r="1.1"/><circle cx="688.0" cy="247.6" r="1.1"/><circle cx="691.6" cy="243.8" r="1.1"/><circle cx="692.3" cy="247.8" r="1.1"/><circle cx="693.4" cy="247.6" r="1.1"/><circle cx="685.9" cy="248.7" r="1.1"/><circle cx="693.2" cy="248.3" r="1.1"/><circle cx="686.3" cy="243.3" r="1.1"/><circle cx="691.2" cy="248.5" r="1.1"/><circle cx="690.7" cy="247.6" r="1.1"/><circle cx="685.8" cy="248.0" r="1.1"/><circle cx="691.0" cy="245.8" r="1.1"/><circle cx="692.4" cy="244.1" r="1.1"/><circle cx="687.0" cy="248.2" r="1.1"/><circle cx="691.7" cy="248.8" r="1.1"/><circle cx="689.2" cy="248.6" r="1.1"/><circle cx="686.9" cy="248.2" r="1.1"/><circle cx="685.9" cy="239.8" r="1.1"/><circle cx="687.7" cy="244.4" r="1.1"/><circle cx="686.0" cy="243.7" r="1.1"/><circle cx="686.1" cy="240.5" r="1.1"/><circle cx="686.5" cy="239.8" r="1.1"/><circle cx="686.2" cy="242.4" r="1.1"/><circle cx="689.2" cy="242.8" r="1.1"/><circle cx="688.0" cy="232.4" r="1.1"/><circle cx="692.7" cy="240.6" r="1.1"/><circle cx="686.8" cy="238.7" r="1.1"/><circle cx="692.4" cy="244.3" r="1.1"/><circle cx="687.3" cy="242.7" r="1.1"/><circle cx="687.2" cy="234.9" r="1.1"/><circle cx="688.4" cy="240.7" r="1.1"/><circle cx="688.0" cy="241.2" r="1.1"/><circle cx="690.5" cy="242.4" r="1.1"/><circle cx="689.6" cy="241.1" r="1.1"/><circle cx="693.3" cy="242.4" r="1.1"/><circle cx="691.0" cy="243.7" r="1.1"/><circle cx="687.7" cy="239.4" r="1.1"/><circle cx="693.2" cy="239.7" r="1.1"/><circle cx="688.2" cy="239.2" r="1.1"/></g>
<g fill="#8B0000"><circle cx="702.7" cy="247.7" r="1.1"/><circle cx="695.0" cy="248.1" r="1.1"/><circle cx="697.0" cy="244.4" r="1.1"/><circle cx="699.7" cy="245.2" r="1.1"/><circle cx="696.5" cy="247.5" r="1.1"/><circle cx="695.9" cy="247.6" r="1.1"/><circle cx="702.0" cy="246.4" r="1.1"/><circle cx="695.4" cy="245.2" r="1.1"/><circle cx="700.0" cy="248.1" r="1.1"/><circle cx="699.2" cy="246.8" r="1.1"/><circle cx="695.0" cy="246.2" r="1.1"/><circle cx="700.7" cy="242.7" r="1.1"/><circle cx="699.6" cy="247.0" r="1.1"/><circle cx="702.7" cy="246.5" r="1.1"/><circle cx="700.7" cy="248.5" r="1.1"/><circle cx="697.9" cy="245.3" r="1.1"/><circle cx="699.1" cy="248.3" r="1.1"/><circle cx="699.7" cy="246.4" r="1.1"/><circle cx="699.8" cy="247.9" r="1.1"/><circle cx="699.2" cy="246.9" r="1.1"/><circle cx="697.0" cy="248.3" r="1.1"/><circle cx="702.0" cy="245.4" r="1.1"/><circle cx="699.0" cy="244.9" r="1.1"/><circle cx="698.7" cy="248.2" r="1.1"/><circle cx="702.1" cy="248.6" r="1.1"/><circle cx="699.1" cy="247.5" r="1.1"/><circle cx="701.3" cy="245.8" r="1.1"/><circle cx="696.8" cy="248.4" r="1.1"/><circle cx="698.5" cy="246.7" r="1.1"/><circle cx="699.9" cy="244.7" r="1.1"/><circle cx="701.7" cy="246.4" r="1.1"/><circle cx="695.3" cy="244.1" r="1.1"/><circle cx="701.3" cy="245.4" r="1.1"/><circle cx="695.9" cy="245.6" r="1.1"/><circle cx="695.8" cy="247.8" r="1.1"/><circle cx="697.7" cy="247.3" r="1.1"/><circle cx="698.5" cy="247.9" r="1.1"/><circle cx="702.7" cy="239.3" r="1.1"/><circle cx="698.5" cy="242.4" r="1.1"/><circle cx="701.1" cy="240.4" r="1.1"/><circle cx="696.2" cy="242.9" r="1.1"/><circle cx="697.8" cy="242.3" r="1.1"/><circle cx="696.8" cy="240.8" r="1.1"/><circle cx="697.6" cy="239.0" r="1.1"/><circle cx="695.1" cy="239.1" r="1.1"/><circle cx="699.4" cy="235.6" r="1.1"/><circle cx="700.5" cy="235.0" r="1.1"/><circle cx="697.5" cy="237.3" r="1.1"/><circle cx="701.4" cy="236.6" r="1.1"/><circle cx="701.6" cy="241.9" r="1.1"/><circle cx="698.3" cy="235.6" r="1.1"/><circle cx="699.8" cy="243.2" r="1.1"/><circle cx="695.3" cy="239.0" r="1.1"/><circle cx="697.8" cy="240.0" r="1.1"/><circle cx="697.3" cy="242.6" r="1.1"/><circle cx="700.0" cy="239.5" r="1.1"/><circle cx="697.7" cy="243.3" r="1.1"/><circle cx="699.5" cy="239.2" r="1.1"/><circle cx="694.8" cy="231.0" r="1.1"/></g>
<g fill="#FF4500"><circle cx="716.5" cy="246.0" r="1.1"/><circle cx="713.7" cy="246.4" r="1.1"/><circle cx="709.2" cy="242.6" r="1.1"/><circle cx="705.2" cy="247.7" r="1.1"/><circle cx="714.3" cy="246.9" r="1.1"/><circle cx="710.9" cy="246.6" r="1.1"/><circle cx="716.2" cy="246.7" r="1.1"/><circle cx="712.1" cy="248.8" r="1.1"/><circle cx="710.4" cy="248.3" r="1.1"/><circle cx="709.8" cy="244.2" r="1.1"/><circle cx="710.6" cy="247.7" r="1.1"/><circle cx="710.8" cy="246.8" r="1.1"/><circle cx="711.1" cy="247.1" r="1.1"/><circle cx="714.1" cy="247.2" r="1.1"/><circle cx="709.6" cy="245.5" r="1.1"/><circle cx="711.6" cy="245.2" r="1.1"/><circle cx="714.5" cy="247.9" r="1.1"/><circle cx="707.2" cy="248.7" r="1.1"/><circle cx="705.3" cy="247.6" r="1.1"/><circle cx="705.5" cy="248.4" r="1.1"/><circle cx="714.2" cy="247.8" r="1.1"/><circle cx="713.3" cy="248.1" r="1.1"/><circle cx="713.7" cy="248.5" r="1.1"/><circle cx="713.4" cy="248.0" r="1.1"/><circle cx="709.8" cy="248.8" r="1.1"/><circle cx="715.1" cy="241.1" r="1.1"/><circle cx="715.8" cy="244.4" r="1.1"/><circle cx="711.1" cy="247.5" r="1.1"/><circle cx="704.4" cy="247.1" r="1.1"/><circle cx="707.8" cy="246.8" r="1.1"/><circle cx="708.4" cy="248.7" r="1.1"/><circle cx="711.6" cy="248.7" r="1.1"/><circle cx="711.0" cy="243.9" r="1.1"/><circle cx="708.3" cy="248.1" r="1.1"/><circle cx="715.7" cy="248.5" r="1.1"/><circle cx="707.7" cy="247.3" r="1.1"/><circle cx="707.0" cy="244.1" r="1.1"/><circle cx="709.2" cy="245.9" r="1.1"/><circle cx="710.4" cy="247.9" r="1.1"/><circle cx="709.1" cy="245.5" r="1.1"/><circle cx="714.9" cy="248.6" r="1.1"/><circle cx="711.6" cy="247.1" r="1.1"/><circle cx="705.0" cy="243.5" r="1.1"/><circle cx="709.7" cy="247.6" r="1.1"/><circle cx="711.8" cy="246.0" r="1.1"/><circle cx="714.8" cy="248.0" r="1.1"/><circle cx="708.1" cy="247.1" r="1.1"/><circle cx="712.1" cy="247.7" r="1.1"/><circle cx="710.3" cy="244.4" r="1.1"/><circle cx="715.9" cy="246.3" r="1.1"/><circle cx="705.1" cy="247.8" r="1.1"/><circle cx="704.9" cy="245.6" r="1.1"/><circle cx="715.7" cy="247.4" r="1.1"/><circle cx="706.7" cy="245.8" r="1.1"/><circle cx="716.5" cy="247.4" r="1.1"/><circle cx="710.9" cy="244.6" r="1.1"/><circle cx="713.2" cy="247.2" r="1.1"/><circle cx="707.1" cy="247.9" r="1.1"/><circle cx="715.4" cy="247.0" r="1.1"/><circle cx="716.4" cy="233.9" r="1.1"/><circle cx="705.6" cy="235.8" r="1.1"/><circle cx="716.9" cy="243.1" r="1.1"/><circle cx="713.0" cy="239.6" r="1.1"/><circle cx="716.3" cy="237.0" r="1.1"/><circle cx="706.3" cy="242.4" r="1.1"/><circle cx="704.9" cy="242.4" r="1.1"/><circle cx="708.2" cy="243.5" r="1.1"/><circle cx="712.0" cy="236.4" r="1.1"/><circle cx="711.7" cy="238.2" r="1.1"/><circle cx="716.3" cy="234.2" r="1.1"/><circle cx="715.4" cy="238.2" r="1.1"/><circle cx="714.9" cy="234.1" r="1.1"/><circle cx="709.5" cy="244.3" r="1.1"/><circle cx="712.8" cy="239.1" r="1.1"/><circle cx="711.5" cy="236.2" r="1.1"/><circle cx="713.9" cy="240.2" r="1.1"/><circle cx="713.3" cy="239.8" r="1.1"/><circle cx="715.2" cy="232.5" r="1.1"/><circle cx="716.5" cy="232.9" r="1.1"/><circle cx="716.7" cy="244.4" r="1.1"/><circle cx="708.1" cy="240.9" r="1.1"/><circle cx="714.2" cy="238.6" r="1.1"/><circle cx="716.6" cy="240.6" r="1.1"/><circle cx="715.7" cy="240.5" r="1.1"/><circle cx="711.4" cy="241.6" r="1.1"/><circle cx="707.9" cy="233.6" r="1.1"/><circle cx="715.5" cy="243.8" r="1.1"/><circle cx="716.5" cy="236.3" r="1.1"/><circle cx="717.1" cy="241.6" r="1.1"/><circle cx="716.8" cy="238.6" r="1.1"/><circle cx="710.4" cy="223.1" r="1.1"/></g>
<g fill="#8B0000"><circle cx="724.5" cy="248.4" r="1.1"/><circle cx="726.4" cy="248.2" r="1.1"/><circle cx="722.0" cy="248.8" r="1.1"/><circle cx="731.9" cy="244.7" r="1.1"/><circle cx="728.2" cy="248.6" r="1.1"/><circle cx="720.6" cy="247.9" r="1.1"/><circle cx="728.7" cy="244.6" r="1.1"/><circle cx="726.6" cy="247.4" r="1.1"/><circle cx="720.7" cy="245.9" r="1.1"/><circle cx="729.6" cy="248.2" r="1.1"/><circle cx="724.8" cy="246.6" r="1.1"/><circle cx="725.2" cy="246.4" r="1.1"/><circle cx="721.8" cy="248.1" r="1.1"/><circle cx="734.4" cy="247.6" r="1.1"/><circle cx="733.2" cy="246.5" r="1.1"/><circle cx="726.9" cy="244.6" r="1.1"/><circle cx="733.3" cy="248.2" r="1.1"/><circle cx="721.0" cy="248.0" r="1.1"/><circle cx="721.0" cy="245.7" r="1.1"/><circle cx="726.7" cy="248.8" r="1.1"/><circle cx="727.3" cy="247.3" r="1.1"/><circle cx="725.0" cy="246.2" r="1.1"/><circle cx="722.4" cy="248.0" r="1.1"/><circle cx="721.2" cy="246.4" r="1.1"/><circle cx="727.2" cy="248.5" r="1.1"/><circle cx="733.5" cy="243.7" r="1.1"/><circle cx="727.0" cy="242.8" r="1.1"/><circle cx="731.9" cy="248.3" r="1.1"/><circle cx="722.8" cy="245.4" r="1.1"/><circle cx="731.3" cy="247.2" r="1.1"/><circle cx="719.6" cy="247.7" r="1.1"/><circle cx="725.5" cy="247.2" r="1.1"/><circle cx="733.5" cy="246.8" r="1.1"/><circle cx="720.5" cy="248.6" r="1.1"/><circle cx="728.7" cy="247.2" r="1.1"/><circle cx="731.8" cy="248.0" r="1.1"/><circle cx="723.1" cy="248.6" r="1.1"/><circle cx="728.8" cy="248.0" r="1.1"/><circle cx="729.1" cy="248.1" r="1.1"/><circle cx="730.3" cy="248.8" r="1.1"/><circle cx="732.2" cy="247.9" r="1.1"/><circle cx="726.6" cy="246.7" r="1.1"/><circle cx="734.3" cy="248.5" r="1.1"/><circle cx="725.8" cy="248.7" r="1.1"/><circle cx="723.1" cy="248.0" r="1.1"/><circle cx="731.0" cy="248.3" r="1.1"/><circle cx="724.7" cy="248.2" r="1.1"/><circle cx="721.4" cy="247.6" r="1.1"/><circle cx="724.5" cy="248.3" r="1.1"/><circle cx="734.9" cy="247.2" r="1.1"/><circle cx="726.9" cy="244.4" r="1.1"/><circle cx="727.2" cy="248.8" r="1.1"/><circle cx="731.3" cy="247.9" r="1.1"/><circle cx="729.4" cy="243.4" r="1.1"/><circle cx="732.8" cy="247.7" r="1.1"/><circle cx="731.8" cy="245.5" r="1.1"/><circle cx="724.8" cy="245.5" r="1.1"/><circle cx="721.7" cy="246.7" r="1.1"/><circle cx="731.2" cy="245.2" r="1.1"/><circle cx="721.3" cy="248.1" r="1.1"/><circle cx="733.8" cy="246.0" r="1.1"/><circle cx="731.2" cy="243.6" r="1.1"/><circle cx="728.7" cy="246.6" r="1.1"/><circle cx="726.2" cy="244.9" r="1.1"/><circle cx="733.2" cy="246.8" r="1.1"/><circle cx="723.9" cy="244.9" r="1.1"/><circle cx="734.4" cy="245.8" r="1.1"/><circle cx="721.0" cy="248.1" r="1.1"/><circle cx="723.2" cy="244.5" r="1.1"/><circle cx="732.7" cy="248.0" r="1.1"/><circle cx="726.5" cy="248.7" r="1.1"/><circle cx="727.1" cy="236.5" r="1.1"/><circle cx="730.2" cy="243.9" r="1.1"/><circle cx="725.5" cy="242.6" r="1.1"/><circle cx="732.0" cy="243.1" r="1.1"/><circle cx="734.4" cy="242.3" r="1.1"/><circle cx="725.7" cy="243.4" r="1.1"/><circle cx="732.6" cy="242.1" r="1.1"/><circle cx="728.7" cy="238.5" r="1.1"/><circle cx="731.9" cy="243.5" r="1.1"/><circle cx="719.4" cy="240.5" r="1.1"/><circle cx="732.3" cy="232.3" r="1.1"/><circle cx="728.9" cy="239.6" r="1.1"/><circle cx="724.5" cy="240.1" r="1.1"/><circle cx="724.8" cy="236.0" r="1.1"/><circle cx="729.1" cy="243.5" r="1.1"/><circle cx="720.5" cy="237.7" r="1.1"/><circle cx="730.5" cy="237.3" r="1.1"/><circle cx="729.8" cy="239.9" r="1.1"/><circle cx="721.1" cy="243.3" r="1.1"/><circle cx="719.8" cy="242.3" r="1.1"/><circle cx="722.1" cy="243.4" r="1.1"/><circle cx="734.6" cy="237.3" r="1.1"/><circle cx="722.7" cy="238.9" r="1.1"/><circle cx="729.0" cy="243.8" r="1.1"/><circle cx="725.5" cy="243.8" r="1.1"/><circle cx="734.6" cy="240.6" r="1.1"/><circle cx="735.1" cy="240.7" r="1.1"/><circle cx="732.6" cy="235.3" r="1.1"/><circle cx="727.6" cy="234.4" r="1.1"/><circle cx="734.4" cy="234.9" r="1.1"/><circle cx="732.2" cy="240.1" r="1.1"/><circle cx="724.8" cy="236.8" r="1.1"/><circle cx="728.1" cy="231.8" r="1.1"/><circle cx="727.4" cy="243.6" r="1.1"/><circle cx="734.1" cy="239.1" r="1.1"/><circle cx="729.9" cy="243.8" r="1.1"/><circle cx="726.3" cy="241.8" r="1.1"/><circle cx="725.0" cy="244.2" r="1.1"/><circle cx="729.3" cy="242.2" r="1.1"/><circle cx="727.6" cy="239.1" r="1.1"/><circle cx="733.8" cy="242.3" r="1.1"/><circle cx="725.0" cy="240.6" r="1.1"/><circle cx="728.4" cy="229.8" r="1.1"/><circle cx="735.7" cy="229.8" r="1.1"/></g>
<g fill="#FF4500"><circle cx="739.3" cy="247.2" r="1.1"/><circle cx="738.6" cy="244.4" r="1.1"/><circle cx="738.3" cy="247.2" r="1.1"/><circle cx="739.1" cy="244.9" r="1.1"/><circle cx="738.7" cy="247.5" r="1.1"/><circle cx="737.7" cy="248.9" r="1.1"/><circle cx="737.2" cy="248.2" r="1.1"/><circle cx="737.3" cy="243.8" r="1.1"/><circle cx="738.4" cy="247.3" r="1.1"/><circle cx="737.9" cy="248.2" r="1.1"/><circle cx="738.8" cy="248.5" r="1.1"/><circle cx="738.8" cy="247.6" r="1.1"/><circle cx="737.6" cy="247.3" r="1.1"/><circle cx="739.3" cy="246.3" r="1.1"/><circle cx="738.5" cy="248.1" r="1.1"/><circle cx="737.9" cy="247.6" r="1.1"/><circle cx="738.7" cy="244.2" r="1.1"/><circle cx="737.6" cy="242.4" r="1.1"/><circle cx="738.3" cy="234.4" r="1.1"/><circle cx="738.9" cy="243.4" r="1.1"/><circle cx="737.2" cy="238.6" r="1.1"/><circle cx="739.1" cy="240.8" r="1.1"/><circle cx="738.7" cy="234.4" r="1.1"/><circle cx="737.7" cy="234.7" r="1.1"/><circle cx="737.9" cy="237.8" r="1.1"/></g>
<g fill="#8B0000"><circle cx="754.8" cy="245.3" r="1.1"/><circle cx="745.4" cy="247.3" r="1.1"/><circle cx="754.5" cy="248.5" r="1.1"/><circle cx="747.3" cy="248.1" r="1.1"/><circle cx="742.6" cy="246.8" r="1.1"/><circle cx="746.5" cy="248.7" r="1.1"/><circle cx="754.8" cy="246.3" r="1.1"/><circle cx="754.0" cy="248.7" r="1.1"/><circle cx="747.4" cy="247.2" r="1.1"/><circle cx="752.1" cy="247.0" r="1.1"/><circle cx="745.5" cy="245.8" r="1.1"/><circle cx="747.7" cy="246.4" r="1.1"/><circle cx="749.0" cy="245.4" r="1.1"/><circle cx="744.9" cy="246.8" r="1.1"/><circle cx="746.2" cy="245.1" r="1.1"/><circle cx="745.1" cy="246.2" r="1.1"/><circle cx="750.0" cy="247.3" r="1.1"/><circle cx="741.6" cy="248.6" r="1.1"/><circle cx="752.8" cy="244.5" r="1.1"/><circle cx="754.4" cy="246.7" r="1.1"/><circle cx="744.8" cy="247.9" r="1.1"/><circle cx="748.8" cy="248.8" r="1.1"/><circle cx="751.8" cy="247.9" r="1.1"/><circle cx="752.6" cy="247.7" r="1.1"/><circle cx="742.6" cy="246.5" r="1.1"/><circle cx="754.8" cy="247.6" r="1.1"/><circle cx="750.1" cy="245.5" r="1.1"/><circle cx="746.6" cy="247.3" r="1.1"/><circle cx="754.4" cy="244.8" r="1.1"/><circle cx="746.6" cy="248.8" r="1.1"/><circle cx="752.5" cy="246.6" r="1.1"/><circle cx="753.5" cy="247.9" r="1.1"/><circle cx="748.6" cy="247.5" r="1.1"/><circle cx="753.9" cy="245.1" r="1.1"/><circle cx="742.9" cy="248.4" r="1.1"/><circle cx="746.9" cy="248.4" r="1.1"/><circle cx="748.2" cy="248.1" r="1.1"/><circle cx="749.3" cy="246.6" r="1.1"/><circle cx="746.8" cy="245.9" r="1.1"/><circle cx="753.1" cy="247.1" r="1.1"/><circle cx="752.3" cy="248.0" r="1.1"/><circle cx="750.6" cy="248.1" r="1.1"/><circle cx="751.8" cy="247.6" r="1.1"/><circle cx="753.9" cy="243.5" r="1.1"/><circle cx="751.6" cy="248.8" r="1.1"/><circle cx="753.6" cy="247.3" r="1.1"/><circle cx="742.9" cy="245.6" r="1.1"/><circle cx="749.8" cy="247.7" r="1.1"/><circle cx="744.9" cy="245.1" r="1.1"/><circle cx="752.8" cy="245.7" r="1.1"/><circle cx="744.9" cy="247.5" r="1.1"/><circle cx="742.3" cy="248.5" r="1.1"/><circle cx="750.7" cy="247.1" r="1.1"/><circle cx="746.1" cy="244.4" r="1.1"/><circle cx="751.0" cy="248.1" r="1.1"/><circle cx="745.6" cy="244.5" r="1.1"/><circle cx="741.0" cy="246.7" r="1.1"/><circle cx="744.9" cy="247.9" r="1.1"/><circle cx="741.8" cy="247.9" r="1.1"/><circle cx="752.5" cy="245.8" r="1.1"/><circle cx="741.6" cy="247.8" r="1.1"/><circle cx="744.2" cy="248.3" r="1.1"/><circle cx="750.0" cy="247.8" r="1.1"/><circle cx="745.7" cy="238.5" r="1.1"/><circle cx="744.1" cy="241.3" r="1.1"/><circle cx="744.0" cy="243.2" r="1.1"/><circle cx="752.6" cy="243.5" r="1.1"/><circle cx="741.4" cy="241.0" r="1.1"/><circle cx="741.4" cy="243.1" r="1.1"/><circle cx="747.1" cy="240.7" r="1.1"/><circle cx="751.4" cy="241.9" r="1.1"/><circle cx="746.7" cy="241.5" r="1.1"/><circle cx="749.4" cy="240.8" r="1.1"/><circle cx="753.4" cy="236.3" r="1.1"/><circle cx="752.5" cy="244.4" r="1.1"/><circle cx="745.7" cy="244.2" r="1.1"/><circle cx="742.0" cy="244.4" r="1.1"/><circle cx="742.9" cy="240.4" r="1.1"/><circle cx="750.8" cy="240.1" r="1.1"/><circle cx="747.5" cy="242.5" r="1.1"/><circle cx="743.7" cy="238.5" r="1.1"/><circle cx="745.0" cy="239.4" r="1.1"/><circle cx="751.5" cy="235.4" r="1.1"/><circle cx="747.3" cy="240.8" r="1.1"/><circle cx="751.1" cy="235.5" r="1.1"/><circle cx="744.8" cy="235.5" r="1.1"/><circle cx="751.0" cy="241.3" r="1.1"/><circle cx="751.7" cy="244.3" r="1.1"/><circle cx="754.2" cy="244.1" r="1.1"/><circle cx="751.3" cy="242.6" r="1.1"/><circle cx="741.2" cy="235.7" r="1.1"/><circle cx="751.3" cy="243.6" r="1.1"/><circle cx="744.8" cy="241.9" r="1.1"/><circle cx="743.3" cy="238.7" r="1.1"/><circle cx="755.2" cy="241.9" r="1.1"/><circle cx="741.6" cy="237.9" r="1.1"/><circle cx="746.1" cy="234.9" r="1.1"/><circle cx="752.5" cy="243.8" r="1.1"/><circle cx="742.5" cy="240.1" r="1.1"/><circle cx="743.2" cy="232.1" r="1.1"/><circle cx="747.7" cy="243.1" r="1.1"/><circle cx="754.0" cy="244.4" r="1.1"/><circle cx="746.1" cy="225.8" r="1.1"/></g>
<g fill="#FF4500"><circle cx="761.7" cy="248.1" r="1.1"/><circle cx="757.7" cy="246.1" r="1.1"/><circle cx="759.9" cy="246.3" r="1.1"/><circle cx="758.1" cy="246.8" r="1.1"/><circle cx="762.3" cy="248.9" r="1.1"/><circle cx="761.1" cy="248.3" r="1.1"/><circle cx="759.5" cy="242.2" r="1.1"/><circle cx="761.2" cy="246.5" r="1.1"/><circle cx="761.9" cy="245.4" r="1.1"/><circle cx="757.7" cy="245.8" r="1.1"/><circle cx="760.4" cy="247.1" r="1.1"/><circle cx="759.1" cy="248.7" r="1.1"/><circle cx="761.5" cy="244.1" r="1.1"/><circle cx="759.6" cy="248.6" r="1.1"/><circle cx="760.1" cy="243.8" r="1.1"/><circle cx="757.3" cy="247.4" r="1.1"/><circle cx="762.1" cy="247.3" r="1.1"/><circle cx="759.8" cy="245.7" r="1.1"/><circle cx="758.3" cy="247.8" r="1.1"/><circle cx="762.2" cy="247.5" r="1.1"/><circle cx="760.4" cy="248.0" r="1.1"/><circle cx="757.6" cy="248.1" r="1.1"/><circle cx="760.4" cy="248.0" r="1.1"/><circle cx="760.7" cy="246.2" r="1.1"/><circle cx="757.3" cy="248.1" r="1.1"/><circle cx="761.2" cy="246.2" r="1.1"/><circle cx="759.3" cy="246.2" r="1.1"/><circle cx="760.9" cy="247.9" r="1.1"/><circle cx="760.7" cy="248.4" r="1.1"/><circle cx="761.0" cy="247.0" r="1.1"/><circle cx="757.7" cy="240.3" r="1.1"/><circle cx="760.4" cy="243.9" r="1.1"/><circle cx="762.7" cy="236.6" r="1.1"/><circle cx="759.2" cy="236.3" r="1.1"/><circle cx="761.8" cy="243.1" r="1.1"/><circle cx="761.3" cy="241.9" r="1.1"/><circle cx="761.6" cy="244.3" r="1.1"/><circle cx="762.4" cy="236.6" r="1.1"/><circle cx="760.9" cy="236.1" r="1.1"/><circle cx="760.7" cy="244.0" r="1.1"/><circle cx="758.5" cy="244.0" r="1.1"/><circle cx="757.0" cy="234.1" r="1.1"/><circle cx="757.5" cy="242.9" r="1.1"/><circle cx="761.1" cy="244.3" r="1.1"/></g>
<g fill="#8B0000"><circle cx="764.5" cy="247.1" r="1.1"/><circle cx="764.9" cy="244.6" r="1.1"/><circle cx="765.2" cy="245.4" r="1.1"/><circle cx="765.2" cy="246.1" r="1.1"/><circle cx="764.9" cy="243.9" r="1.1"/><circle cx="765.1" cy="248.8" r="1.1"/><circle cx="764.9" cy="245.3" r="1.1"/><circle cx="765.1" cy="248.8" r="1.1"/><circle cx="764.9" cy="248.1" r="1.1"/><circle cx="764.7" cy="248.5" r="1.1"/><circle cx="764.4" cy="239.4" r="1.1"/><circle cx="764.4" cy="242.8" r="1.1"/><circle cx="765.1" cy="243.4" r="1.1"/><circle cx="764.5" cy="240.1" r="1.1"/><circle cx="764.6" cy="242.1" r="1.1"/><circle cx="764.5" cy="239.8" r="1.1"/></g>
<g fill="#FF4500"><circle cx="768.9" cy="245.7" r="1.1"/><circle cx="767.4" cy="248.4" r="1.1"/><circle cx="771.7" cy="248.3" r="1.1"/><circle cx="767.5" cy="244.0" r="1.1"/><circle cx="771.2" cy="247.4" r="1.1"/><circle cx="767.7" cy="247.3" r="1.1"/><circle cx="771.3" cy="243.4" r="1.1"/><circle cx="766.9" cy="244.5" r="1.1"/><circle cx="770.8" cy="247.8" r="1.1"/><circle cx="770.3" cy="248.3" r="1.1"/><circle cx="769.2" cy="246.1" r="1.1"/><circle cx="770.4" cy="248.5" r="1.1"/><circle cx="771.1" cy="245.5" r="1.1"/><circle cx="771.4" cy="244.3" r="1.1"/><circle cx="771.0" cy="244.7" r="1.1"/><circle cx="767.1" cy="246.4" r="1.1"/><circle cx="769.4" cy="246.8" r="1.1"/><circle cx="771.9" cy="244.4" r="1.1"/><circle cx="769.4" cy="246.3" r="1.1"/><circle cx="770.9" cy="243.4" r="1.1"/><circle cx="768.9" cy="248.8" r="1.1"/><circle cx="768.7" cy="246.7" r="1.1"/><circle cx="772.5" cy="246.6" r="1.1"/><circle cx="770.6" cy="247.3" r="1.1"/><circle cx="771.7" cy="245.0" r="1.1"/><circle cx="772.6" cy="247.1" r="1.1"/><circle cx="768.3" cy="248.8" r="1.1"/><circle cx="769.3" cy="246.8" r="1.1"/><circle cx="772.0" cy="247.0" r="1.1"/><circle cx="768.8" cy="244.0" r="1.1"/><circle cx="771.3" cy="243.0" r="1.1"/><circle cx="771.4" cy="243.8" r="1.1"/><circle cx="767.5" cy="241.0" r="1.1"/><circle cx="768.7" cy="243.4" r="1.1"/><circle cx="769.0" cy="241.9" r="1.1"/><circle cx="772.4" cy="241.0" r="1.1"/><circle cx="769.9" cy="234.4" r="1.1"/><circle cx="770.0" cy="242.1" r="1.1"/><circle cx="769.2" cy="244.1" r="1.1"/><circle cx="770.8" cy="243.9" r="1.1"/><circle cx="767.4" cy="244.3" r="1.1"/><circle cx="768.5" cy="235.9" r="1.1"/><circle cx="767.0" cy="243.9" r="1.1"/><circle cx="771.0" cy="237.0" r="1.1"/><circle cx="767.9" cy="244.4" r="1.1"/><circle cx="770.8" cy="239.9" r="1.1"/><circle cx="771.2" cy="242.4" r="1.1"/></g>
</svg></body></html>
